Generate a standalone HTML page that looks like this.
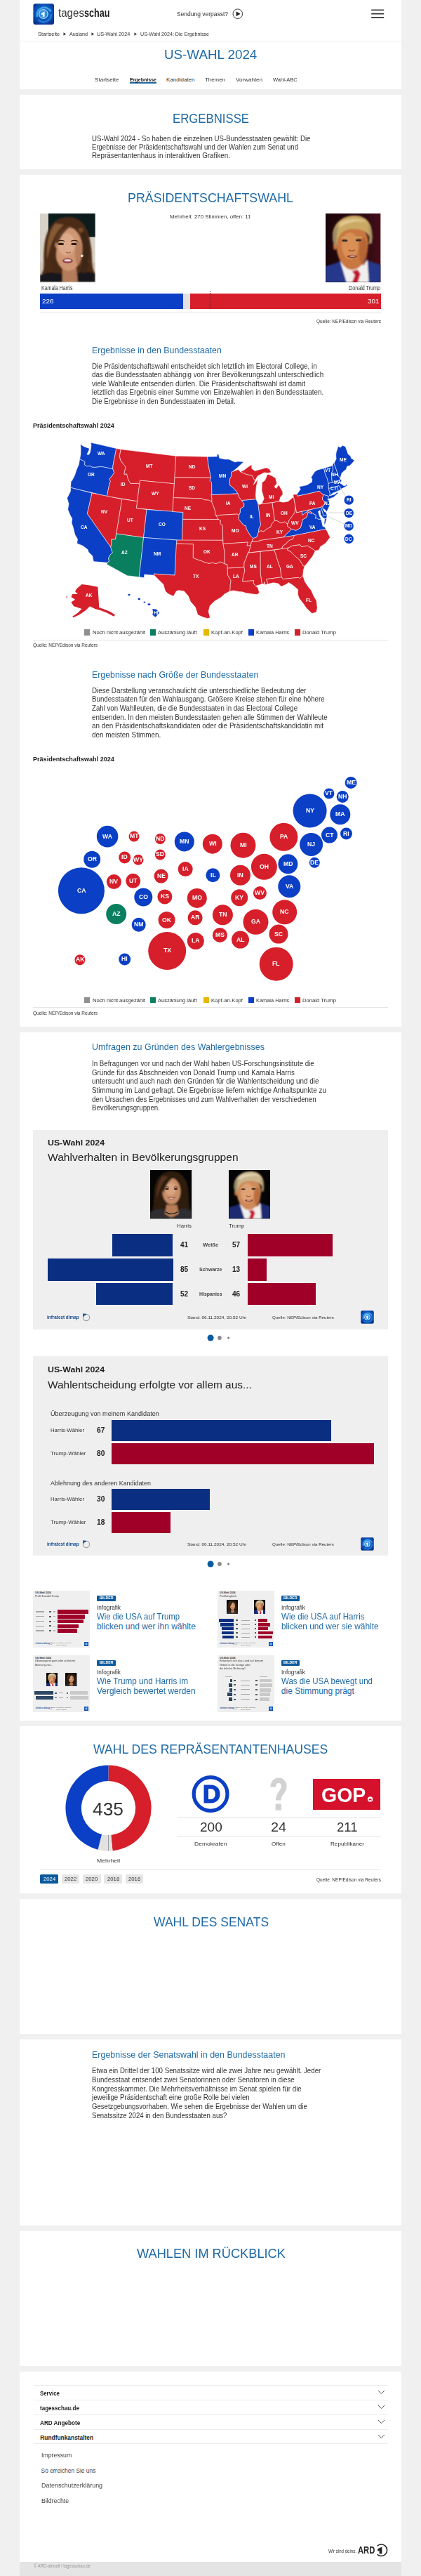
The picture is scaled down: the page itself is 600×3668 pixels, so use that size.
<!DOCTYPE html><html><head><meta charset="utf-8"><title>US-Wahl 2024</title><style>
html,body{margin:0;padding:0;}body{width:600px;height:3668px;position:relative;overflow:hidden;background:#f0f0f0;font-family:"Liberation Sans",sans-serif;}
#pg{position:absolute;left:0;top:0;width:600px;height:3668px;overflow:hidden}
#pg div,#pg span,#pg svg{position:absolute}
#pg span{white-space:pre;line-height:1}
</style></head><body><div id="pg">
<div style="left:28px;top:0px;width:544px;height:127px;background:#fff;"></div>
<div style="left:28px;top:135px;width:544px;height:106px;background:#fff;"></div>
<div style="left:28px;top:249px;width:544px;height:1213px;background:#fff;"></div>
<div style="left:28px;top:1470px;width:544px;height:980px;background:#fff;"></div>
<div style="left:28px;top:2458px;width:544px;height:238px;background:#fff;"></div>
<div style="left:28px;top:2704px;width:544px;height:192px;background:#fff;"></div>
<div style="left:28px;top:2904px;width:544px;height:265px;background:#fff;"></div>
<div style="left:28px;top:3177px;width:544px;height:192px;background:#fff;"></div>
<div style="left:28px;top:3377px;width:544px;height:271px;background:#fff;"></div>
<div style="left:28px;top:3648px;width:544px;height:20px;background:#e4e4e4;"></div>
<svg style="left:47px;top:4.5px" width="30" height="30" viewBox="0 0 30 30">
<defs><radialGradient id="lg" cx="0.5" cy="0.45" r="0.7"><stop offset="0" stop-color="#1c7fd6"/><stop offset="0.6" stop-color="#0b4fb4"/><stop offset="1" stop-color="#06257a"/></radialGradient></defs>
<rect x="0.4" y="0.3" width="29.6" height="29.6" rx="3.2" fill="url(#lg)"/>
<path d="M6 19 A10.5 10.5 0 0 1 25.5 11.5" fill="none" stroke="#49b4f4" stroke-width="2.8" opacity="0.8"/>
<path d="M26 15 A10.8 10.8 0 0 1 8 23.5" fill="none" stroke="#2d8fe2" stroke-width="2.4" opacity="0.7"/>
<circle cx="14.9" cy="15" r="6.3" fill="#2b8fe4" stroke="#fff" stroke-width="0.9"/>
<path d="M12 13.9 L16.6 11.2 L16.6 18.6 L13.8 18.9 L13.8 15.4 L12 16.2 Z" fill="#fff"/>
</svg>
<svg style="left:330px;top:11px" width="18" height="18" viewBox="0 0 18 18"><circle cx="8.8" cy="8.7" r="6.8" fill="#fff" stroke="#222" stroke-width="0.9"/><path d="M6.6 5.2 L12.6 8.7 L6.6 12.2 Z" fill="#222"/></svg>
<svg style="left:529px;top:10px" width="19" height="20" viewBox="0 0 19 20"><path d="M0.2 4.3 H18.2 M0.2 9.6 H18.2 M0.2 14.9 H18.2" stroke="#333" stroke-width="1.6"/></svg>
<svg style="left:90.3px;top:46.3px" width="5" height="5" viewBox="0 0 5 5"><path d="M0.5 0.3 L4 2.5 L0.5 4.7Z" fill="#333"/></svg>
<svg style="left:130px;top:46.3px" width="5" height="5" viewBox="0 0 5 5"><path d="M0.5 0.3 L4 2.5 L0.5 4.7Z" fill="#333"/></svg>
<svg style="left:191px;top:46.3px" width="5" height="5" viewBox="0 0 5 5"><path d="M0.5 0.3 L4 2.5 L0.5 4.7Z" fill="#333"/></svg>
<div style="left:28px;top:57.6px;width:544px;height:1px;background:#ececec;"></div>
<div style="left:184.6px;top:117.4px;width:38px;height:1.6px;background:#1f6aa6;"></div>
<svg style="left:57.2px;top:304.1px" width="78.8" height="97.8" viewBox="0 0 79 98" preserveAspectRatio="none">
<defs><filter id="hba" x="-20%" y="-20%" width="140%" height="140%"><feGaussianBlur stdDeviation="1.3"/></filter>
<filter id="hsa" x="-20%" y="-20%" width="140%" height="140%"><feGaussianBlur stdDeviation="0.7"/></filter>
<clipPath id="hca"><rect width="79" height="98"/></clipPath></defs>
<g clip-path="url(#hca)">
<rect width="79" height="98" fill="#d8d3c8"/><rect x="12" y="0" width="67" height="33.5" fill="#0c1c1d"/><rect x="0" y="70" width="79" height="28" fill="#cfc8ba"/>
<g filter="url(#hba)">
<path d="M40 5 C18 5 8 25 6 48 C4 66 8 80 2 86 C12 88 20 96 30 92 L58 92 C68 92 74 86 79 86 C72 76 76 60 72 42 C69 18 58 5 40 5Z" fill="#4b2c18"/>
<path d="M22 14 C12 26 9 46 10 66 C14 50 18 30 34 16Z" fill="#865a34"/>
<path d="M60 20 C68 34 70 52 70 72 C66 56 64 36 54 22Z" fill="#7a4e2c"/>
<path d="M0 98 L0 88 C10 84 22 82 34 88 L36 98Z" fill="#14141b"/>
<path d="M79 98 L79 86 C68 82 58 82 50 88 L48 98Z" fill="#14141b"/>
<path d="M32 78 L52 78 L54 98 L32 98Z" fill="#b47c5a"/>
<ellipse cx="41" cy="51" rx="19.5" ry="31" fill="#cf9673"/>
<ellipse cx="38" cy="44" rx="12" ry="16" fill="#dcaa8a"/>
<path d="M22 38 C25 24 36 17 48 17 C38 21 30 30 25 46Z" fill="#5c3820"/>
<path d="M58 28 C63 44 63 64 57 84 L66 86 C72 64 72 40 63 24Z" fill="#3e2614"/>
<path d="M24 50 C22 62 24 74 28 84 L20 86 C16 72 18 58 22 46Z" fill="#442a17"/>
<ellipse cx="55" cy="56" rx="5" ry="18" fill="#a8704e" opacity="0.6"/>
</g>
<g filter="url(#hsa)">
<ellipse cx="30" cy="43.5" rx="4.2" ry="1.7" fill="#2a1a14"/>
<ellipse cx="48.5" cy="43.5" rx="4.2" ry="1.7" fill="#2a1a14"/>
<path d="M25 39.5 Q30 37.5 35 39.5" stroke="#3a2418" stroke-width="1.1" fill="none"/>
<path d="M44 39.5 Q49 37.5 54 39.5" stroke="#3a2418" stroke-width="1.1" fill="none"/>
<path d="M37 55 Q40 57.5 44 55" stroke="#a56a4c" stroke-width="1.4" fill="none"/>
<ellipse cx="39.5" cy="67.5" rx="7.5" ry="3.6" fill="#9a4a52"/>
<ellipse cx="39.5" cy="67" rx="5" ry="1.5" fill="#e8dcd8"/>
<circle cx="60" cy="60.5" r="1.8" fill="#efe9e0"/>
</g></g></svg>
<svg style="left:464px;top:304.1px" width="78.6" height="98" viewBox="0 0 79 98" preserveAspectRatio="none">
<defs><filter id="tba" x="-20%" y="-20%" width="140%" height="140%"><feGaussianBlur stdDeviation="1.3"/></filter>
<filter id="tsa" x="-20%" y="-20%" width="140%" height="140%"><feGaussianBlur stdDeviation="0.7"/></filter>
<linearGradient id="tga" x1="0" x2="1"><stop offset="0" stop-color="#1c060a"/><stop offset="0.7" stop-color="#2c0a12"/><stop offset="1" stop-color="#470d18"/></linearGradient>
<clipPath id="tca"><rect width="79" height="98"/></clipPath></defs>
<g clip-path="url(#tca)">
<rect width="79" height="98" fill="url(#tga)"/>
<g filter="url(#tba)">
<path d="M0 98 L0 75 C8 73 16 71 22 67 L36 98Z" fill="#27378c"/>
<path d="M79 98 L79 73 C72 71 64 69 58 65 L46 98Z" fill="#27378c"/>
<path d="M21 68 L30 98 L62 98 L60 66 C50 78 34 78 21 68Z" fill="#f1efee"/>
<path d="M38 82 L46 80 L50 86 L46 98 L38 98 L42 88Z" fill="#c31230"/>
<path d="M15 40 C15 24 26 18 38 18 C52 18 61 26 61 42 C61 58 56 72 46 78 C40 81 34 81 29 77 C20 70 15 56 15 40Z" fill="#c87740"/>
<ellipse cx="35" cy="46" rx="12" ry="19" fill="#d98f54"/>
<ellipse cx="54" cy="54" rx="6" ry="20" fill="#a8582a" opacity="0.55"/>
<ellipse cx="13.5" cy="46" rx="2.6" ry="6" fill="#c9733c"/>
<path d="M12 44 C5 22 18 4 40 3 C60 2 70 16 66 44 C64 30 56 21 40 22 C26 22 18 28 16 46Z" fill="#cba965"/>
<path d="M20 14 C30 6 50 6 60 12 C50 10 30 12 20 20Z" fill="#dfc88e"/>
<path d="M11 42 C9 30 11 22 18 17 C16 26 15 34 16 48Z" fill="#9a8a66"/>
<path d="M66 42 C68 30 66 22 60 16 C63 26 63 34 62 44Z" fill="#a89468"/>
</g>
<g filter="url(#tsa)">
<ellipse cx="27.5" cy="38.5" rx="4" ry="1.5" fill="#3a2a26"/>
<ellipse cx="47" cy="38" rx="4" ry="1.5" fill="#3a2a26"/>
<path d="M22 35 Q28 32 34 35.5" stroke="#c9a262" stroke-width="1.6" fill="none"/>
<path d="M41 35 Q47 32 53 34.5" stroke="#c9a262" stroke-width="1.6" fill="none"/>
<path d="M33 52 Q37 54.5 42 52" stroke="#a55a28" stroke-width="1.5" fill="none"/>
<ellipse cx="38" cy="61" rx="7" ry="2.2" fill="#8a3a2e"/>
<ellipse cx="38.5" cy="60.6" rx="4.5" ry="0.9" fill="#e9d9cf"/>
</g></g></svg>
<div style="left:57px;top:418.3px;width:204px;height:21.4px;background:#0a3fc6;"></div>
<div style="left:261px;top:418.3px;width:10px;height:21.4px;background:#e2e2e2;"></div>
<div style="left:271px;top:418.3px;width:272px;height:21.4px;background:#d61f2a;"></div>
<div style="left:299.4px;top:415.3px;width:0;height:24.4px;border-left:1px dotted #6a2226"></div>
<div style="left:57px;top:445px;width:486px;height:1px;background:#e6e6e6;"></div>
<svg style="left:0;top:600px" width="600" height="320" viewBox="0 600 600 320"><g stroke="#fff" stroke-width="0.55" stroke-linejoin="round"><path d="M114.8 632.5 L115.1 639.6 L114.9 647.7 L113.6 653.8 L117.8 655.7 L120.8 657.5 L120.4 662.0 L123.5 663.8 L129.2 663.7 L131.0 665.2 L136.0 665.4 L142.6 664.6 L146.8 664.8 L160.8 667.7 L160.9 663.3 L165.8 638.5 L129.0 630.1 L130.0 632.9 L129.5 637.8 L128.5 644.2 L126.7 647.3 L123.9 647.1 L127.0 640.7 L126.9 638.2 L124.0 637.4 L119.0 635.5Z" fill="#0a3fc6"/>
<path d="M113.6 653.8 L112.3 661.4 L109.1 668.8 L106.4 677.3 L102.5 684.5 L101.1 685.8 L100.6 694.3 L152.4 706.6 L155.9 689.0 L157.5 685.3 L155.9 682.4 L159.3 678.0 L162.8 673.1 L160.8 667.7 L146.8 664.8 L142.6 664.6 L136.0 665.4 L131.0 665.2 L129.2 663.7 L123.5 663.8 L120.4 662.0 L120.8 657.5 L117.8 655.7Z" fill="#0a3fc6"/>
<path d="M100.6 694.3 L100.6 699.6 L95.6 709.2 L98.0 717.5 L96.7 725.5 L100.0 733.6 L102.8 738.5 L102.0 744.5 L104.4 751.3 L106.8 761.2 L110.6 767.8 L109.6 773.7 L118.0 777.2 L125.1 782.6 L126.1 786.0 L131.7 791.4 L133.3 799.6 L153.2 801.3 L155.5 798.9 L154.5 794.7 L157.0 790.0 L160.4 786.8 L159.0 783.2 L157.8 779.0 L124.4 731.4 L131.1 702.1Z" fill="#0a3fc6"/>
<path d="M131.1 702.1 L173.9 710.6 L164.5 767.9 L158.7 768.2 L159.1 773.1 L157.8 779.0 L124.4 731.4Z" fill="#d61f2a"/>
<path d="M165.8 638.5 L172.2 639.7 L170.4 649.4 L171.7 655.1 L175.8 660.9 L179.0 664.5 L176.9 675.2 L180.5 674.8 L182.7 682.7 L186.1 688.6 L195.8 688.1 L198.9 689.2 L195.6 713.8 L152.4 706.6 L155.9 689.0 L157.5 685.3 L155.9 682.4 L159.3 678.0 L162.8 673.1 L160.8 667.7 L160.9 663.3Z" fill="#d61f2a"/>
<path d="M172.2 639.7 L250.8 649.3 L248.5 688.8 L199.5 684.1 L198.9 689.2 L195.8 688.1 L186.1 688.6 L182.7 682.7 L180.5 674.8 L176.9 675.2 L179.0 664.5 L175.8 660.9 L171.7 655.1 L170.4 649.4Z" fill="#d61f2a"/>
<path d="M199.5 684.1 L248.4 688.8 L246.1 728.6 L194.3 723.7Z" fill="#d61f2a"/>
<path d="M173.9 710.6 L195.6 713.8 L194.3 723.7 L209.0 725.5 L204.6 765.4 L165.8 760.0Z" fill="#d61f2a"/>
<path d="M209.0 725.5 L260.9 729.4 L259.4 769.4 L204.6 765.4Z" fill="#0a3fc6"/>
<path d="M165.8 760.0 L204.6 765.4 L198.3 821.7 L181.4 819.7 L152.0 803.4 L153.2 801.3 L155.5 798.9 L154.5 794.7 L157.0 790.0 L160.4 786.8 L159.0 783.2 L157.8 779.0 L159.1 773.1 L158.7 768.2 L164.5 767.9Z" fill="#0a7f5f"/>
<path d="M204.6 765.4 L252.0 769.1 L249.1 819.1 L219.3 817.1 L219.9 819.3 L205.8 818.0 L205.4 822.5 L198.3 821.7Z" fill="#0a3fc6"/>
<path d="M250.7 649.3 L295.7 650.3 L296.7 660.1 L298.5 670.0 L300.7 680.4 L248.9 679.5Z" fill="#d61f2a"/>
<path d="M248.9 679.5 L300.7 680.4 L298.8 683.9 L301.6 686.8 L302.0 704.7 L300.9 704.7 L302.1 709.7 L301.8 714.7 L298.2 712.3 L291.6 711.8 L287.3 709.8 L247.2 708.7Z" fill="#d61f2a"/>
<path d="M247.2 708.7 L287.3 709.8 L291.6 711.8 L298.2 712.3 L301.8 714.7 L305.0 722.6 L306.6 727.6 L307.1 732.6 L307.7 733.8 L311.4 739.5 L260.5 739.4 L260.9 729.4 L246.1 728.6Z" fill="#d61f2a"/>
<path d="M260.5 739.4 L311.4 739.5 L314.5 741.4 L313.9 745.4 L317.1 748.3 L317.8 769.3 L259.4 769.4Z" fill="#d61f2a"/>
<path d="M252.0 769.1 L317.8 769.3 L318.0 774.3 L319.9 785.3 L320.3 802.9 L314.3 800.0 L307.8 802.7 L302.9 801.3 L298.0 802.4 L292.2 801.0 L286.5 798.5 L281.6 797.0 L275.1 794.3 L275.4 774.9 L251.7 774.1Z" fill="#d61f2a"/>
<path d="M251.4 774.1 L275.4 774.9 L275.1 794.3 L281.6 797.0 L286.5 798.5 L292.2 801.0 L298.0 802.4 L302.9 801.3 L307.8 802.7 L314.3 800.0 L320.3 802.9 L323.9 803.6 L324.7 819.2 L329.2 826.9 L328.2 832.9 L328.1 838.9 L327.4 841.9 L320.2 845.7 L315.2 850.4 L305.7 856.1 L299.2 862.6 L297.1 870.6 L299.5 879.8 L295.4 880.4 L290.0 879.0 L281.9 875.5 L278.4 864.6 L271.5 856.6 L268.2 848.6 L262.3 841.8 L254.6 840.5 L251.1 842.1 L247.3 849.1 L239.7 845.5 L235.6 841.8 L232.8 832.1 L224.0 823.5 L219.9 819.3 L219.3 817.1 L249.1 819.1Z" fill="#d61f2a"/>
<path d="M295.7 650.3 L309.4 650.0 L309.3 646.3 L311.6 647.0 L312.8 652.3 L320.5 653.9 L326.5 654.1 L334.8 657.9 L339.1 657.1 L347.5 657.4 L339.4 665.0 L331.7 671.5 L329.7 672.2 L330.0 677.6 L327.2 682.7 L327.8 691.2 L331.1 693.5 L335.7 698.1 L339.2 702.9 L302.0 704.7 L301.6 686.8 L298.8 683.9 L300.7 680.4 L298.5 670.0 L296.7 660.1 L295.7 650.3Z" fill="#0a3fc6"/>
<path d="M302.0 704.7 L339.2 702.9 L340.7 707.8 L344.3 712.5 L348.0 717.2 L347.7 721.2 L342.4 724.7 L342.4 729.7 L340.5 733.9 L338.1 732.0 L307.7 733.8 L307.1 732.6 L306.6 727.6 L305.0 722.6 L301.8 714.7 L302.1 709.7 L300.9 704.7Z" fill="#d61f2a"/>
<path d="M307.7 733.8 L338.1 732.0 L340.5 733.9 L340.1 738.9 L346.9 747.4 L350.8 749.1 L351.2 753.1 L357.6 763.6 L360.6 766.5 L359.2 771.5 L358.4 771.6 L357.3 776.7 L351.9 777.2 L353.2 772.1 L318.0 774.3 L317.1 748.3 L313.9 745.4 L314.5 741.4 L311.4 739.5Z" fill="#d61f2a"/>
<path d="M318.0 774.3 L353.2 772.1 L351.9 777.2 L357.3 776.7 L354.9 786.0 L353.4 787.1 L351.4 793.3 L348.0 801.6 L347.9 807.7 L324.2 809.1 L323.9 803.6 L320.3 802.9 L319.9 785.3Z" fill="#d61f2a"/>
<path d="M324.2 809.1 L347.9 807.7 L348.9 812.6 L346.3 822.8 L345.8 827.8 L361.6 826.5 L361.4 830.6 L364.3 834.5 L367.1 836.0 L369.6 843.7 L366.4 846.6 L359.3 845.7 L350.5 844.4 L345.2 842.8 L340.8 842.6 L332.9 840.9 L327.4 841.9 L328.1 838.9 L328.2 832.9 L329.2 826.9 L324.7 819.2Z" fill="#d61f2a"/>
<path d="M347.9 807.7 L348.0 801.6 L351.4 793.3 L353.4 787.1 L370.2 785.5 L371.1 786.4 L371.3 816.6 L373.5 831.6 L364.3 834.5 L361.4 830.6 L361.6 826.5 L345.8 827.8 L346.3 822.8 L348.9 812.6Z" fill="#d61f2a"/>
<path d="M370.2 785.5 L391.0 782.9 L397.4 803.6 L399.6 809.0 L400.4 817.0 L401.5 821.8 L379.6 824.7 L381.4 829.5 L381.3 831.7 L377.1 832.7 L377.0 828.5 L376.1 831.6 L373.5 831.6 L371.3 816.6 L371.1 786.4Z" fill="#d61f2a"/>
<path d="M391.0 782.9 L411.0 780.0 L409.5 783.2 L414.3 785.5 L420.4 791.6 L427.3 797.5 L432.1 805.7 L434.3 806.0 L432.4 811.7 L431.7 819.8 L427.2 823.8 L425.7 822.3 L403.1 824.6 L401.5 821.8 L400.4 817.0 L399.6 809.0 L397.4 803.6Z" fill="#d61f2a"/>
<path d="M379.6 824.7 L401.5 821.8 L403.1 824.6 L425.7 822.3 L427.2 823.8 L431.7 819.8 L434.6 828.5 L439.5 835.7 L443.5 840.5 L447.4 849.3 L451.1 855.6 L452.2 865.5 L450.8 871.7 L444.7 873.6 L437.0 866.3 L432.1 859.2 L426.4 852.1 L424.5 846.4 L424.7 839.4 L417.0 833.1 L411.2 829.4 L408.1 831.9 L400.8 835.3 L396.7 831.0 L389.6 829.7 L381.3 831.7 L381.4 829.5Z" fill="#d61f2a"/>
<path d="M411.0 780.0 L417.0 776.9 L427.1 775.6 L428.0 775.9 L429.7 778.5 L438.6 777.0 L449.4 784.3 L445.5 791.9 L440.8 797.9 L437.1 802.7 L434.3 806.0 L432.1 805.7 L427.3 797.5 L420.4 791.6 L414.3 785.5 L409.5 783.2Z" fill="#d61f2a"/>
<path d="M401.3 781.5 L403.2 777.1 L406.9 774.8 L411.0 770.3 L413.2 768.9 L417.4 767.5 L419.5 762.3 L464.4 753.3 L466.2 756.5 L470.4 765.2 L464.1 773.4 L456.8 778.2 L454.2 783.4 L449.4 784.3 L438.6 777.0 L429.7 778.5 L428.0 775.9 L427.1 775.6 L417.0 776.9 L411.0 780.0Z" fill="#d61f2a"/>
<path d="M353.4 787.1 L401.3 781.5 L403.2 777.1 L406.9 774.8 L411.0 770.3 L413.2 768.9 L417.4 767.5 L419.5 762.3 L403.9 764.8 L369.7 769.4 L369.6 770.4 L358.4 771.6 L357.3 776.7 L354.9 786.0Z" fill="#d61f2a"/>
<path d="M358.4 771.6 L359.2 771.5 L360.6 766.5 L365.6 764.8 L368.3 757.5 L371.9 755.6 L375.7 756.8 L381.4 752.4 L385.4 750.7 L387.5 745.7 L391.4 741.4 L393.8 741.0 L400.5 744.6 L405.7 742.9 L409.2 745.5 L409.9 749.6 L415.6 753.4 L403.9 764.8 L369.7 769.4 L369.6 770.4Z" fill="#d61f2a"/>
<path d="M403.9 764.8 L419.5 762.3 L464.4 753.3 L462.6 750.1 L460.1 749.7 L458.7 743.8 L457.7 739.4 L452.8 739.0 L451.2 737.3 L449.5 738.2 L450.4 733.4 L446.3 731.3 L444.2 729.5 L444.2 729.5 L443.8 731.5 L439.2 729.1 L436.8 736.8 L431.3 739.7 L428.4 751.4 L421.8 755.3 L415.6 753.4Z" fill="#0a3fc6"/>
<path d="M462.5 747.9 L464.2 743.5 L465.7 737.7 L462.9 738.8 L462.0 744.1Z" fill="#0a3fc6"/>
<path d="M409.2 745.5 L410.4 745.3 L412.0 740.6 L415.6 735.7 L419.9 730.0 L420.4 726.7 L420.8 720.8 L422.6 729.8 L430.3 728.3 L431.3 733.4 L434.8 730.2 L438.3 728.4 L439.9 726.7 L444.2 729.5 L443.8 731.5 L439.2 729.1 L436.8 736.8 L431.3 739.7 L428.4 751.4 L421.8 755.3 L415.6 753.4 L409.9 749.6Z" fill="#d61f2a"/>
<path d="M430.3 728.3 L457.5 722.2 L461.2 734.3 L466.1 733.2 L465.7 737.7 L462.9 738.8 L460.3 737.2 L456.9 732.9 L456.1 726.4 L453.5 728.6 L455.5 735.3 L457.7 739.4 L452.8 739.0 L451.2 737.3 L449.5 738.2 L450.4 733.4 L446.3 731.3 L444.2 729.5 L439.9 726.7 L438.3 728.4 L434.8 730.2 L431.3 733.4Z" fill="#0a3fc6"/>
<path d="M457.5 722.2 L458.7 720.8 L460.2 720.8 L460.0 724.4 L462.0 728.1 L464.9 730.1 L466.1 733.2 L461.2 734.3Z" fill="#0a3fc6"/>
<path d="M461.5 704.3 L459.5 708.5 L459.5 711.6 L464.0 715.7 L461.9 718.3 L460.2 720.8 L459.8 723.9 L463.0 725.7 L465.7 728.4 L468.5 722.8 L469.9 718.8 L469.1 712.3 L466.9 711.8 L468.0 709.5 L468.1 706.3Z" fill="#0a3fc6"/>
<path d="M418.3 707.4 L417.6 704.2 L423.2 703.7 L423.7 706.3 L455.3 699.3 L458.4 702.6 L461.5 704.3 L459.5 708.5 L459.5 711.6 L464.0 715.7 L461.9 718.3 L460.2 720.8 L458.7 720.8 L457.5 722.2 L422.6 729.8Z" fill="#d61f2a"/>
<path d="M423.7 706.3 L423.2 703.7 L428.2 696.8 L426.3 693.0 L437.2 690.7 L444.3 686.5 L444.8 682.3 L443.4 679.6 L448.8 671.6 L452.3 669.2 L461.6 666.7 L463.9 676.4 L466.1 680.5 L468.1 688.2 L468.3 695.4 L470.6 703.6 L469.1 705.0 L469.9 705.9 L477.4 703.8 L479.9 701.5 L482.5 701.6 L475.5 708.0 L468.5 710.6 L468.0 709.5 L468.1 706.3 L461.5 704.3 L458.4 702.6 L455.3 699.3Z" fill="#0a3fc6"/>
<path d="M468.3 695.4 L480.3 692.3 L482.1 698.3 L481.8 699.2 L474.6 702.0 L469.9 705.9 L469.1 705.0 L470.6 703.6Z" fill="#0a3fc6"/>
<path d="M480.3 692.3 L483.3 691.5 L486.0 696.1 L486.6 696.0 L484.3 698.0 L481.8 699.2 L482.1 698.3Z" fill="#0a3fc6"/>
<path d="M468.3 695.4 L468.1 688.2 L473.8 686.8 L481.9 684.8 L484.8 682.2 L486.9 683.8 L485.2 688.0 L488.1 690.3 L490.1 691.8 L493.0 691.1 L492.7 688.9 L491.4 688.5 L493.5 689.1 L494.4 692.0 L489.8 694.5 L486.6 696.0 L486.0 696.1 L483.3 691.5 L480.3 692.3Z" fill="#0a3fc6"/>
<path d="M461.6 666.7 L474.1 663.1 L474.8 668.2 L472.9 672.9 L472.9 677.0 L472.8 683.3 L473.8 686.8 L468.1 688.2 L466.1 680.5 L463.9 676.4Z" fill="#0a3fc6"/>
<path d="M473.8 686.8 L472.8 683.3 L472.9 677.0 L472.9 672.9 L474.8 668.2 L474.1 663.1 L474.1 660.6 L476.1 659.5 L480.7 672.7 L482.4 677.9 L484.0 679.7 L485.0 680.0 L484.8 682.2 L481.9 684.8Z" fill="#0a3fc6"/>
<path d="M476.1 659.5 L479.2 653.4 L478.7 648.3 L479.2 644.1 L482.0 635.3 L484.9 637.3 L488.2 634.3 L492.4 636.0 L496.2 646.9 L499.3 649.0 L500.7 652.7 L505.2 655.4 L501.8 659.7 L498.4 662.9 L494.4 664.3 L493.4 668.2 L489.2 671.6 L486.9 673.9 L485.5 679.0 L485.0 680.0 L484.0 679.7 L482.4 677.9 L480.7 672.7Z" fill="#0a3fc6"/>
<path d="M391.4 741.4 L387.8 715.6 L397.5 713.8 L403.4 715.2 L410.6 713.9 L418.3 707.6 L420.8 720.8 L420.4 726.7 L419.9 730.0 L415.6 735.7 L412.0 740.6 L410.4 745.3 L409.2 745.5 L405.7 742.9 L400.5 744.6 L393.8 741.0Z" fill="#d61f2a"/>
<path d="M391.4 741.4 L387.5 745.7 L385.4 750.7 L381.4 752.4 L375.7 756.8 L371.9 755.6 L368.3 757.5 L368.9 752.4 L371.5 747.5 L370.6 741.6 L367.8 717.6 L370.3 718.4 L373.0 717.0 L387.8 715.6Z" fill="#d61f2a"/>
<path d="M367.8 717.6 L365.0 710.6 L344.3 712.5 L348.0 717.2 L347.7 721.2 L342.4 724.7 L342.4 729.7 L340.5 733.9 L340.1 738.9 L346.9 747.4 L350.8 749.1 L351.2 753.1 L357.6 763.6 L360.6 766.5 L365.6 764.8 L368.3 757.5 L368.9 752.4 L371.5 747.5 L370.6 741.6Z" fill="#0a3fc6"/>
<path d="M387.8 715.6 L373.0 717.0 L376.3 710.1 L373.0 698.4 L373.4 687.3 L377.8 683.7 L380.7 676.3 L382.3 675.3 L387.2 677.4 L392.6 680.5 L394.6 688.3 L391.0 692.9 L393.5 695.5 L397.4 690.3 L402.7 700.1 L403.0 704.1 L399.3 708.3 L399.2 710.3 L397.5 713.8Z" fill="#d61f2a"/>
<path d="M342.6 672.0 L352.0 675.8 L359.1 677.0 L361.8 682.2 L363.5 684.5 L366.9 678.1 L371.5 675.6 L376.7 672.9 L382.0 673.6 L386.4 672.5 L384.0 667.8 L379.2 666.0 L372.6 667.9 L363.2 670.6 L358.7 667.1 L358.8 661.6 L352.4 665.8 L348.0 669.2Z" fill="#d61f2a"/>
<path d="M329.7 672.2 L331.7 671.5 L339.7 668.5 L342.6 672.0 L352.0 675.8 L359.1 677.0 L361.8 682.2 L363.5 684.5 L361.3 690.3 L367.5 682.6 L365.2 693.4 L364.4 705.5 L365.0 710.6 L344.3 712.5 L340.7 707.8 L339.2 702.9 L335.7 698.1 L331.1 693.5 L327.8 691.2 L327.2 682.7 L330.0 677.6Z" fill="#d61f2a"/></g><path d="M109.0 838.5 L116.6 832.0 L128.0 833.6 L139.4 835.8 L141.3 865.1 L147.0 867.0 L156.5 870.8 L164.1 875.4 L162.2 877.7 L152.7 872.7 L143.2 868.9 L135.6 867.0 L128.0 863.2 L122.3 868.9 L112.8 875.4 L104.4 879.2 L103.3 877.7 L110.9 872.7 L116.6 867.0 L110.9 865.1 L105.2 863.2 L101.4 857.5 L107.1 853.7 L101.4 849.9 L103.3 846.1 L110.9 846.1 L107.1 842.3Z" fill="#d61f2a"/><path d="M94.6 849.1 l1.6 0.6 l-0.4 1.2 l-1.4 -0.5Z" fill="#d61f2a"/><path d="M217.3 867.0 L223.0 867.8 L227.2 872.7 L221.5 878.8 L217.3 875.4 L218.1 871.6Z" fill="#0a3fc6"/><ellipse cx="183.9" cy="846.9" rx="1.7" ry="1.2" fill="#0a3fc6"/><ellipse cx="198.3" cy="852.9" rx="1.8" ry="1.3" fill="#0a3fc6"/><ellipse cx="205.9" cy="857.5" rx="1.4" ry="1.0" fill="#0a3fc6"/><ellipse cx="212.4" cy="860.6" rx="2.1" ry="1.4" fill="#0a3fc6"/><line x1="484.8" y1="694.8" x2="493.1" y2="707.1" stroke="#c4c4c4" stroke-width="0.7"/><line x1="468.2" y1="730.1" x2="490.5" y2="730.1" stroke="#c4c4c4" stroke-width="0.7"/><line x1="467.5" y1="735.4" x2="491.1" y2="746.4" stroke="#c4c4c4" stroke-width="0.7"/><circle cx="497.2" cy="712.1" r="6.7" fill="#0a3fc6"/><circle cx="497.2" cy="730.6" r="6.7" fill="#0a3fc6"/><circle cx="497.2" cy="749" r="6.7" fill="#0a3fc6"/><circle cx="497.2" cy="767.3" r="6.7" fill="#0a3fc6"/></svg>
<div style="left:120.1px;top:896.4px;width:8.2px;height:8.2px;background:#8f8f8f;"></div>
<div style="left:214.1px;top:896.4px;width:8.2px;height:8.2px;background:#0a7f5f;"></div>
<div style="left:289.6px;top:896.4px;width:8.2px;height:8.2px;background:#e6b800;"></div>
<div style="left:354.1px;top:896.4px;width:8.2px;height:8.2px;background:#0a3fc6;"></div>
<div style="left:419.6px;top:896.4px;width:8.2px;height:8.2px;background:#d61f2a;"></div>
<div style="left:47px;top:910.6px;width:506px;height:1px;background:#e6e6e6;"></div>
<svg style="left:0;top:1090px" width="600" height="320" viewBox="0 0 600 320"><circle cx="153.1" cy="101.1" r="15.3" fill="#0a3fc6"/><circle cx="191" cy="101" r="7.5" fill="#d61f2a"/><circle cx="228.3" cy="104.4" r="7.5" fill="#d61f2a"/><circle cx="262.8" cy="108.4" r="14" fill="#0a3fc6"/><circle cx="302.8" cy="111.7" r="14" fill="#d61f2a"/><circle cx="131.2" cy="133.7" r="12" fill="#0a3fc6"/><circle cx="177.7" cy="131" r="8.5" fill="#d61f2a"/><circle cx="197" cy="134.3" r="7.5" fill="#d61f2a"/><circle cx="228.3" cy="127" r="7.5" fill="#d61f2a"/><circle cx="264.2" cy="147.6" r="10.5" fill="#d61f2a"/><circle cx="303.4" cy="156.3" r="10" fill="#0a3fc6"/><circle cx="162.4" cy="165.6" r="10.5" fill="#d61f2a"/><circle cx="189.7" cy="164.3" r="10.5" fill="#d61f2a"/><circle cx="229.6" cy="157.6" r="10" fill="#d61f2a"/><circle cx="115.9" cy="178.2" r="33" fill="#0a3fc6"/><circle cx="204.3" cy="187.5" r="13" fill="#0a3fc6"/><circle cx="234.9" cy="186.9" r="10.5" fill="#d61f2a"/><circle cx="280.8" cy="188.9" r="14" fill="#d61f2a"/><circle cx="165.7" cy="211.5" r="14.5" fill="#0a7f5f"/><circle cx="197.7" cy="226.8" r="10" fill="#0a3fc6"/><circle cx="237.6" cy="220.1" r="12" fill="#d61f2a"/><circle cx="278.1" cy="216.8" r="10.5" fill="#d61f2a"/><circle cx="317.4" cy="212.8" r="14.5" fill="#d61f2a"/><circle cx="278.8" cy="250" r="12" fill="#d61f2a"/><circle cx="313.4" cy="241.4" r="10.5" fill="#d61f2a"/><circle cx="238.2" cy="264" r="27" fill="#d61f2a"/><circle cx="113.9" cy="276.7" r="7.5" fill="#d61f2a"/><circle cx="177.7" cy="276" r="8.5" fill="#0a3fc6"/><circle cx="500.1" cy="24.6" r="8.5" fill="#0a3fc6"/><circle cx="468.9" cy="39.9" r="7.5" fill="#0a3fc6"/><circle cx="488.2" cy="44.6" r="8.5" fill="#0a3fc6"/><circle cx="441.6" cy="64.5" r="24" fill="#0a3fc6"/><circle cx="484.8" cy="69.8" r="14.5" fill="#0a3fc6"/><circle cx="469.5" cy="99.1" r="11.5" fill="#0a3fc6"/><circle cx="493.5" cy="97.1" r="8.5" fill="#0a3fc6"/><circle cx="404.4" cy="101.8" r="20" fill="#d61f2a"/><circle cx="443.6" cy="112.4" r="16.5" fill="#0a3fc6"/><circle cx="346.5" cy="113.7" r="18" fill="#d61f2a"/><circle cx="448.3" cy="138.3" r="7.5" fill="#0a3fc6"/><circle cx="410.4" cy="140.3" r="14" fill="#0a3fc6"/><circle cx="376.4" cy="144.3" r="18.5" fill="#d61f2a"/><circle cx="342.5" cy="156.3" r="14.5" fill="#d61f2a"/><circle cx="412.3" cy="172.3" r="16" fill="#0a3fc6"/><circle cx="370.4" cy="181.6" r="9.5" fill="#d61f2a"/><circle cx="341.2" cy="188.2" r="12" fill="#d61f2a"/><circle cx="405.7" cy="208.8" r="17.5" fill="#d61f2a"/><circle cx="364.5" cy="222.8" r="18" fill="#d61f2a"/><circle cx="397" cy="240.1" r="13.5" fill="#d61f2a"/><circle cx="342.5" cy="248.1" r="12.5" fill="#d61f2a"/><circle cx="393.7" cy="282.7" r="24" fill="#d61f2a"/></svg>
<div style="left:120.1px;top:1420.1px;width:8.2px;height:8.2px;background:#8f8f8f;"></div>
<div style="left:214.1px;top:1420.1px;width:8.2px;height:8.2px;background:#0a7f5f;"></div>
<div style="left:289.6px;top:1420.1px;width:8.2px;height:8.2px;background:#e6b800;"></div>
<div style="left:354.1px;top:1420.1px;width:8.2px;height:8.2px;background:#0a3fc6;"></div>
<div style="left:419.6px;top:1420.1px;width:8.2px;height:8.2px;background:#d61f2a;"></div>
<div style="left:47px;top:1433.9px;width:506px;height:1px;background:#e6e6e6;"></div>
<div style="left:47.2px;top:1609px;width:505.4px;height:283.6px;background:#efefef;"></div>
<svg style="left:214.3px;top:1666.4px" width="59.4" height="69.4" viewBox="0 0 79 98" preserveAspectRatio="none">
<defs><filter id="jbb" x="-20%" y="-20%" width="140%" height="140%"><feGaussianBlur stdDeviation="1.2"/></filter>
<filter id="jsb" x="-20%" y="-20%" width="140%" height="140%"><feGaussianBlur stdDeviation="0.6"/></filter>
<clipPath id="jcb"><rect width="79" height="98"/></clipPath></defs>
<g clip-path="url(#jcb)">
<rect width="79" height="98" fill="#050505"/>
<g filter="url(#jbb)">
<path d="M40 3 C20 3 10 20 8 40 C6 56 8 70 4 80 C14 84 24 82 30 78 L52 78 C60 82 68 84 76 78 C72 68 74 54 72 38 C70 16 58 3 40 3Z" fill="#2f1c10"/>
<path d="M24 12 C14 24 12 44 12 60 C16 44 20 26 34 14Z" fill="#563620"/>
<path d="M0 98 L0 84 C12 78 24 76 34 82 L40 98Z" fill="#2e2e32"/>
<path d="M79 98 L79 82 C68 76 56 76 48 82 L42 98Z" fill="#2e2e32"/>
<path d="M31 70 L51 70 L54 88 L40 96 L28 88Z" fill="#b87e58"/>
<ellipse cx="40.5" cy="43" rx="17" ry="26" fill="#c98f68"/>
<ellipse cx="39" cy="38" rx="10" ry="13" fill="#d8a480"/>
<path d="M22 36 C24 18 36 12 48 13 C38 18 30 28 26 46Z" fill="#2f1c10"/>
</g>
<g filter="url(#jsb)">
<ellipse cx="32" cy="38" rx="3.6" ry="1.4" fill="#1e120c"/>
<ellipse cx="48.5" cy="38" rx="3.6" ry="1.4" fill="#1e120c"/>
<path d="M28 34.5 Q32 32.8 36 34.5" stroke="#2a180e" stroke-width="1" fill="none"/>
<path d="M44.5 34.5 Q48.5 32.8 52.5 34.5" stroke="#2a180e" stroke-width="1" fill="none"/>
<path d="M33 55 Q40 62 48 55 Q40 57.5 33 55Z" fill="#f0e6e0" stroke="#8a4444" stroke-width="1"/>
<path d="M29 84 Q40 93 52 84" stroke="#1a1a1a" stroke-width="1.8" fill="none"/>
</g></g></svg>
<svg style="left:325.9px;top:1666.4px" width="59.4" height="69.4" viewBox="0 0 79 98" preserveAspectRatio="none">
<defs><filter id="tbb" x="-20%" y="-20%" width="140%" height="140%"><feGaussianBlur stdDeviation="1.3"/></filter>
<filter id="tsb" x="-20%" y="-20%" width="140%" height="140%"><feGaussianBlur stdDeviation="0.7"/></filter>
<linearGradient id="tgb" x1="0" x2="1"><stop offset="0" stop-color="#1c060a"/><stop offset="0.7" stop-color="#2c0a12"/><stop offset="1" stop-color="#470d18"/></linearGradient>
<clipPath id="tcb"><rect width="79" height="98"/></clipPath></defs>
<g clip-path="url(#tcb)">
<rect width="79" height="98" fill="#050505"/>
<g filter="url(#tbb)">
<path d="M0 98 L0 75 C8 73 16 71 22 67 L36 98Z" fill="#1b2a72"/>
<path d="M79 98 L79 73 C72 71 64 69 58 65 L46 98Z" fill="#1b2a72"/>
<path d="M21 68 L30 98 L62 98 L60 66 C50 78 34 78 21 68Z" fill="#f1efee"/>
<path d="M38 82 L46 80 L50 86 L46 98 L38 98 L42 88Z" fill="#c31230"/>
<path d="M15 40 C15 24 26 18 38 18 C52 18 61 26 61 42 C61 58 56 72 46 78 C40 81 34 81 29 77 C20 70 15 56 15 40Z" fill="#cf8a5a"/>
<ellipse cx="35" cy="46" rx="12" ry="19" fill="#dfa274"/>
<ellipse cx="54" cy="54" rx="6" ry="20" fill="#a8582a" opacity="0.55"/>
<ellipse cx="13.5" cy="46" rx="2.6" ry="6" fill="#c9733c"/>
<path d="M12 44 C5 22 18 4 40 3 C60 2 70 16 66 44 C64 30 56 21 40 22 C26 22 18 28 16 46Z" fill="#cbb58c"/>
<path d="M20 14 C30 6 50 6 60 12 C50 10 30 12 20 20Z" fill="#e2d4b2"/>
<path d="M11 42 C9 30 11 22 18 17 C16 26 15 34 16 48Z" fill="#9a8a66"/>
<path d="M66 42 C68 30 66 22 60 16 C63 26 63 34 62 44Z" fill="#a89468"/>
</g>
<g filter="url(#tsb)">
<ellipse cx="27.5" cy="38.5" rx="4" ry="1.5" fill="#3a2a26"/>
<ellipse cx="47" cy="38" rx="4" ry="1.5" fill="#3a2a26"/>
<path d="M22 35 Q28 32 34 35.5" stroke="#c9a262" stroke-width="1.6" fill="none"/>
<path d="M41 35 Q47 32 53 34.5" stroke="#c9a262" stroke-width="1.6" fill="none"/>
<path d="M33 52 Q37 54.5 42 52" stroke="#a55a28" stroke-width="1.5" fill="none"/>
<ellipse cx="38" cy="61" rx="7" ry="2.2" fill="#8a3a2e"/>
<ellipse cx="38.5" cy="60.6" rx="4.5" ry="0.9" fill="#e9d9cf"/>
</g></g></svg>
<div style="left:160.4px;top:1757.3px;width:86.1px;height:31.4px;background:#0a2f82;"></div>
<div style="left:353px;top:1757.3px;width:120.555px;height:31.4px;background:#a00028;"></div>
<div style="left:68px;top:1792.3px;width:178.5px;height:31.3px;background:#0a2f82;"></div>
<div style="left:353px;top:1792.3px;width:27.495px;height:31.3px;background:#a00028;"></div>
<div style="left:137.3px;top:1827.2px;width:109.2px;height:31px;background:#0a2f82;"></div>
<div style="left:353px;top:1827.2px;width:97.29px;height:31px;background:#a00028;"></div>
<svg style="left:115.5px;top:1869.2px" width="14" height="14" viewBox="0 0 14 14"><circle cx="7" cy="7" r="4.6" fill="none" stroke="#9aa3ad" stroke-width="1.2"/><path d="M7 2.4 A4.6 4.6 0 0 0 2.6 5.6" fill="none" stroke="#1d4f91" stroke-width="1.6"/><rect x="2.2" y="1.4" width="2.4" height="2.4" fill="#1d4f91"/></svg>
<svg style="left:513.5px;top:1866px" width="19" height="19" viewBox="0 0 30 30">
<defs><radialGradient id="mlc1" cx="0.5" cy="0.45" r="0.7"><stop offset="0" stop-color="#1c7fd6"/><stop offset="0.6" stop-color="#0b4fb4"/><stop offset="1" stop-color="#06257a"/></radialGradient></defs>
<rect x="0.4" y="0.3" width="29.2" height="29.2" rx="3.2" fill="url(#mlc1)"/>
<path d="M6 19 A10.5 10.5 0 0 1 25.5 11.5" fill="none" stroke="#49b4f4" stroke-width="2.8" opacity="0.8"/>
<path d="M26 15 A10.8 10.8 0 0 1 8 23.5" fill="none" stroke="#2d8fe2" stroke-width="2.4" opacity="0.7"/>
<circle cx="14.9" cy="15" r="6.3" fill="#2b8fe4" stroke="#fff" stroke-width="1.2"/>
<path d="M12 13.9 L16.6 11.2 L16.6 18.6 L13.8 18.9 L13.8 15.4 L12 16.2 Z" fill="#fff"/>
</svg>
<svg style="left:290px;top:1899.2px" width="50" height="12" viewBox="0 0 50 12"><circle cx="10.1" cy="6" r="4.5" fill="#0b5a9e"/><circle cx="22.9" cy="6" r="2.9" fill="#8a8a8a"/><circle cx="35.6" cy="6" r="1.5" fill="#777"/></svg>
<div style="left:47.2px;top:1930.5px;width:505.4px;height:284.5px;background:#efefef;"></div>
<div style="left:159px;top:2022px;width:313.225px;height:29.7px;background:#0a2f82;"></div>
<div style="left:159px;top:2054.7px;width:374px;height:29.9px;background:#a00028;"></div>
<div style="left:159px;top:2120px;width:140.25px;height:29.9px;background:#0a2f82;"></div>
<div style="left:159px;top:2153.2px;width:84.15px;height:29.5px;background:#a00028;"></div>
<svg style="left:115.5px;top:2191.8px" width="14" height="14" viewBox="0 0 14 14"><circle cx="7" cy="7" r="4.6" fill="none" stroke="#9aa3ad" stroke-width="1.2"/><path d="M7 2.4 A4.6 4.6 0 0 0 2.6 5.6" fill="none" stroke="#1d4f91" stroke-width="1.6"/><rect x="2.2" y="1.4" width="2.4" height="2.4" fill="#1d4f91"/></svg>
<svg style="left:513.5px;top:2188.6px" width="19" height="19" viewBox="0 0 30 30">
<defs><radialGradient id="mlc2" cx="0.5" cy="0.45" r="0.7"><stop offset="0" stop-color="#1c7fd6"/><stop offset="0.6" stop-color="#0b4fb4"/><stop offset="1" stop-color="#06257a"/></radialGradient></defs>
<rect x="0.4" y="0.3" width="29.2" height="29.2" rx="3.2" fill="url(#mlc2)"/>
<path d="M6 19 A10.5 10.5 0 0 1 25.5 11.5" fill="none" stroke="#49b4f4" stroke-width="2.8" opacity="0.8"/>
<path d="M26 15 A10.8 10.8 0 0 1 8 23.5" fill="none" stroke="#2d8fe2" stroke-width="2.4" opacity="0.7"/>
<circle cx="14.9" cy="15" r="6.3" fill="#2b8fe4" stroke="#fff" stroke-width="1.2"/>
<path d="M12 13.9 L16.6 11.2 L16.6 18.6 L13.8 18.9 L13.8 15.4 L12 16.2 Z" fill="#fff"/>
</svg>
<svg style="left:290px;top:2221.3px" width="50" height="12" viewBox="0 0 50 12"><circle cx="10.1" cy="6" r="4.5" fill="#0b5a9e"/><circle cx="22.9" cy="6" r="2.9" fill="#8a8a8a"/><circle cx="35.6" cy="6" r="1.5" fill="#777"/></svg>
<div style="left:138.1px;top:2271.6px;width:26.6px;height:8.7px;background:#0b5a9e;border-radius:1px;"></div>
<div style="left:400.8px;top:2271.6px;width:26.6px;height:8.7px;background:#0b5a9e;border-radius:1px;"></div>
<div style="left:138.1px;top:2363.6px;width:26.6px;height:8.7px;background:#0b5a9e;border-radius:1px;"></div>
<div style="left:400.8px;top:2363.6px;width:26.6px;height:8.7px;background:#0b5a9e;border-radius:1px;"></div>
<div style="left:47.3px;top:2265px;width:80.8px;height:81px;background:#efefef;"></div>
<svg style="left:70.3px;top:2337.6px" width="5" height="5" viewBox="0 0 14 14"><circle cx="7" cy="7" r="4.6" fill="none" stroke="#9aa3ad" stroke-width="1.6"/></svg>
<svg style="left:120.3px;top:2337.6px" width="6.2" height="6.2" viewBox="0 0 30 30">
<defs><radialGradient id="mlt2312" cx="0.5" cy="0.45" r="0.7"><stop offset="0" stop-color="#1c7fd6"/><stop offset="0.6" stop-color="#0b4fb4"/><stop offset="1" stop-color="#06257a"/></radialGradient></defs>
<rect x="0.4" y="0.3" width="29.2" height="29.2" rx="3.2" fill="url(#mlt2312)"/>
<path d="M6 19 A10.5 10.5 0 0 1 25.5 11.5" fill="none" stroke="#49b4f4" stroke-width="2.8" opacity="0.8"/>
<path d="M26 15 A10.8 10.8 0 0 1 8 23.5" fill="none" stroke="#2d8fe2" stroke-width="2.4" opacity="0.7"/>
<circle cx="14.9" cy="15" r="6.3" fill="#2b8fe4" stroke="#fff" stroke-width="1.2"/>
<path d="M12 13.9 L16.6 11.2 L16.6 18.6 L13.8 18.9 L13.8 15.4 L12 16.2 Z" fill="#fff"/>
</svg>
<div style="left:81.6px;top:2292.2px;width:44.2px;height:6px;background:#a00028;"></div>
<div style="left:50.5px;top:2294.4px;width:12px;height:1.2px;background:#777;opacity:0.6"></div>
<div style="left:70px;top:2294px;width:3.2px;height:2px;background:#333;opacity:0.8"></div>
<div style="left:76px;top:2294.4px;width:2.6px;height:1.2px;background:#888;opacity:0.6"></div>
<div style="left:81.6px;top:2298.9px;width:39.2px;height:6px;background:#a00028;"></div>
<div style="left:50.5px;top:2301.1px;width:12px;height:1.2px;background:#777;opacity:0.6"></div>
<div style="left:70px;top:2300.7px;width:3.2px;height:2px;background:#333;opacity:0.8"></div>
<div style="left:76px;top:2301.1px;width:2.6px;height:1.2px;background:#888;opacity:0.6"></div>
<div style="left:81.6px;top:2305.9px;width:37.2px;height:5.6px;background:#a00028;"></div>
<div style="left:50.5px;top:2308.1px;width:12px;height:1.2px;background:#777;opacity:0.6"></div>
<div style="left:70px;top:2307.7px;width:3.2px;height:2px;background:#333;opacity:0.8"></div>
<div style="left:76px;top:2308.1px;width:2.6px;height:1.2px;background:#888;opacity:0.6"></div>
<div style="left:81.6px;top:2312.5px;width:30.9px;height:5.7px;background:#a00028;"></div>
<div style="left:50.5px;top:2314.7px;width:12px;height:1.2px;background:#777;opacity:0.6"></div>
<div style="left:70px;top:2314.3px;width:3.2px;height:2px;background:#333;opacity:0.8"></div>
<div style="left:76px;top:2314.7px;width:2.6px;height:1.2px;background:#888;opacity:0.6"></div>
<div style="left:81.6px;top:2319.2px;width:28.6px;height:5.6px;background:#a00028;"></div>
<div style="left:50.5px;top:2321.4px;width:12px;height:1.2px;background:#777;opacity:0.6"></div>
<div style="left:70px;top:2321px;width:3.2px;height:2px;background:#333;opacity:0.8"></div>
<div style="left:76px;top:2321.4px;width:2.6px;height:1.2px;background:#888;opacity:0.6"></div>
<div style="left:310px;top:2265px;width:80.8px;height:81px;background:#efefef;"></div>
<svg style="left:333px;top:2337.6px" width="5" height="5" viewBox="0 0 14 14"><circle cx="7" cy="7" r="4.6" fill="none" stroke="#9aa3ad" stroke-width="1.6"/></svg>
<svg style="left:383px;top:2337.6px" width="6.2" height="6.2" viewBox="0 0 30 30">
<defs><radialGradient id="mlt2575" cx="0.5" cy="0.45" r="0.7"><stop offset="0" stop-color="#1c7fd6"/><stop offset="0.6" stop-color="#0b4fb4"/><stop offset="1" stop-color="#06257a"/></radialGradient></defs>
<rect x="0.4" y="0.3" width="29.2" height="29.2" rx="3.2" fill="url(#mlt2575)"/>
<path d="M6 19 A10.5 10.5 0 0 1 25.5 11.5" fill="none" stroke="#49b4f4" stroke-width="2.8" opacity="0.8"/>
<path d="M26 15 A10.8 10.8 0 0 1 8 23.5" fill="none" stroke="#2d8fe2" stroke-width="2.4" opacity="0.7"/>
<circle cx="14.9" cy="15" r="6.3" fill="#2b8fe4" stroke="#fff" stroke-width="1.2"/>
<path d="M12 13.9 L16.6 11.2 L16.6 18.6 L13.8 18.9 L13.8 15.4 L12 16.2 Z" fill="#fff"/>
</svg>
<svg style="left:322.6px;top:2278.3px" width="16.6" height="19.9" viewBox="0 0 79 98" preserveAspectRatio="none">
<defs><filter id="jbt2" x="-20%" y="-20%" width="140%" height="140%"><feGaussianBlur stdDeviation="1.2"/></filter>
<filter id="jst2" x="-20%" y="-20%" width="140%" height="140%"><feGaussianBlur stdDeviation="0.6"/></filter>
<clipPath id="jct2"><rect width="79" height="98"/></clipPath></defs>
<g clip-path="url(#jct2)">
<rect width="79" height="98" fill="#050505"/>
<g filter="url(#jbt2)">
<path d="M40 3 C20 3 10 20 8 40 C6 56 8 70 4 80 C14 84 24 82 30 78 L52 78 C60 82 68 84 76 78 C72 68 74 54 72 38 C70 16 58 3 40 3Z" fill="#2f1c10"/>
<path d="M24 12 C14 24 12 44 12 60 C16 44 20 26 34 14Z" fill="#563620"/>
<path d="M0 98 L0 84 C12 78 24 76 34 82 L40 98Z" fill="#2e2e32"/>
<path d="M79 98 L79 82 C68 76 56 76 48 82 L42 98Z" fill="#2e2e32"/>
<path d="M31 70 L51 70 L54 88 L40 96 L28 88Z" fill="#b87e58"/>
<ellipse cx="40.5" cy="43" rx="17" ry="26" fill="#c98f68"/>
<ellipse cx="39" cy="38" rx="10" ry="13" fill="#d8a480"/>
<path d="M22 36 C24 18 36 12 48 13 C38 18 30 28 26 46Z" fill="#2f1c10"/>
</g>
<g filter="url(#jst2)">
<ellipse cx="32" cy="38" rx="3.6" ry="1.4" fill="#1e120c"/>
<ellipse cx="48.5" cy="38" rx="3.6" ry="1.4" fill="#1e120c"/>
<path d="M28 34.5 Q32 32.8 36 34.5" stroke="#2a180e" stroke-width="1" fill="none"/>
<path d="M44.5 34.5 Q48.5 32.8 52.5 34.5" stroke="#2a180e" stroke-width="1" fill="none"/>
<path d="M33 55 Q40 62 48 55 Q40 57.5 33 55Z" fill="#f0e6e0" stroke="#8a4444" stroke-width="1"/>
<path d="M29 84 Q40 93 52 84" stroke="#1a1a1a" stroke-width="1.8" fill="none"/>
</g></g></svg>
<svg style="left:361.5px;top:2278.3px" width="16.7" height="19.9" viewBox="0 0 79 98" preserveAspectRatio="none">
<defs><filter id="tbt2" x="-20%" y="-20%" width="140%" height="140%"><feGaussianBlur stdDeviation="1.3"/></filter>
<filter id="tst2" x="-20%" y="-20%" width="140%" height="140%"><feGaussianBlur stdDeviation="0.7"/></filter>
<linearGradient id="tgt2" x1="0" x2="1"><stop offset="0" stop-color="#1c060a"/><stop offset="0.7" stop-color="#2c0a12"/><stop offset="1" stop-color="#470d18"/></linearGradient>
<clipPath id="tct2"><rect width="79" height="98"/></clipPath></defs>
<g clip-path="url(#tct2)">
<rect width="79" height="98" fill="#050505"/>
<g filter="url(#tbt2)">
<path d="M0 98 L0 75 C8 73 16 71 22 67 L36 98Z" fill="#1b2a72"/>
<path d="M79 98 L79 73 C72 71 64 69 58 65 L46 98Z" fill="#1b2a72"/>
<path d="M21 68 L30 98 L62 98 L60 66 C50 78 34 78 21 68Z" fill="#f1efee"/>
<path d="M38 82 L46 80 L50 86 L46 98 L38 98 L42 88Z" fill="#c31230"/>
<path d="M15 40 C15 24 26 18 38 18 C52 18 61 26 61 42 C61 58 56 72 46 78 C40 81 34 81 29 77 C20 70 15 56 15 40Z" fill="#cf8a5a"/>
<ellipse cx="35" cy="46" rx="12" ry="19" fill="#dfa274"/>
<ellipse cx="54" cy="54" rx="6" ry="20" fill="#a8582a" opacity="0.55"/>
<ellipse cx="13.5" cy="46" rx="2.6" ry="6" fill="#c9733c"/>
<path d="M12 44 C5 22 18 4 40 3 C60 2 70 16 66 44 C64 30 56 21 40 22 C26 22 18 28 16 46Z" fill="#cbb58c"/>
<path d="M20 14 C30 6 50 6 60 12 C50 10 30 12 20 20Z" fill="#e2d4b2"/>
<path d="M11 42 C9 30 11 22 18 17 C16 26 15 34 16 48Z" fill="#9a8a66"/>
<path d="M66 42 C68 30 66 22 60 16 C63 26 63 34 62 44Z" fill="#a89468"/>
</g>
<g filter="url(#tst2)">
<ellipse cx="27.5" cy="38.5" rx="4" ry="1.5" fill="#3a2a26"/>
<ellipse cx="47" cy="38" rx="4" ry="1.5" fill="#3a2a26"/>
<path d="M22 35 Q28 32 34 35.5" stroke="#c9a262" stroke-width="1.6" fill="none"/>
<path d="M41 35 Q47 32 53 34.5" stroke="#c9a262" stroke-width="1.6" fill="none"/>
<path d="M33 52 Q37 54.5 42 52" stroke="#a55a28" stroke-width="1.5" fill="none"/>
<ellipse cx="38" cy="61" rx="7" ry="2.2" fill="#8a3a2e"/>
<ellipse cx="38.5" cy="60.6" rx="4.5" ry="0.9" fill="#e9d9cf"/>
</g></g></svg>
<div style="left:312.3px;top:2304.9px;width:21px;height:5px;background:#0a2f82;"></div>
<div style="left:367.5px;top:2304.9px;width:13px;height:5px;background:#a00028;"></div>
<div style="left:335.8px;top:2306.3px;width:2.8px;height:1.9px;background:#333;opacity:0.8"></div>
<div style="left:362.6px;top:2306.3px;width:2.8px;height:1.9px;background:#333;opacity:0.8"></div>
<div style="left:344px;top:2306.7px;width:12px;height:1.1px;background:#777;opacity:0.6"></div>
<div style="left:314.3px;top:2310.9px;width:19px;height:5px;background:#0a2f82;"></div>
<div style="left:367.5px;top:2310.9px;width:17.3px;height:5px;background:#a00028;"></div>
<div style="left:335.8px;top:2312.3px;width:2.8px;height:1.9px;background:#333;opacity:0.8"></div>
<div style="left:362.6px;top:2312.3px;width:2.8px;height:1.9px;background:#333;opacity:0.8"></div>
<div style="left:344px;top:2312.7px;width:12px;height:1.1px;background:#777;opacity:0.6"></div>
<div style="left:316px;top:2316.9px;width:17.3px;height:4.6px;background:#0a2f82;"></div>
<div style="left:367.5px;top:2316.9px;width:14px;height:4.6px;background:#a00028;"></div>
<div style="left:335.8px;top:2318.3px;width:2.8px;height:1.9px;background:#333;opacity:0.8"></div>
<div style="left:362.6px;top:2318.3px;width:2.8px;height:1.9px;background:#333;opacity:0.8"></div>
<div style="left:344px;top:2318.7px;width:12px;height:1.1px;background:#777;opacity:0.6"></div>
<div style="left:316px;top:2322.8px;width:17.3px;height:4.7px;background:#0a2f82;"></div>
<div style="left:367.5px;top:2322.8px;width:21.6px;height:4.7px;background:#a00028;"></div>
<div style="left:335.8px;top:2324.2px;width:2.8px;height:1.9px;background:#333;opacity:0.8"></div>
<div style="left:362.6px;top:2324.2px;width:2.8px;height:1.9px;background:#333;opacity:0.8"></div>
<div style="left:344px;top:2324.6px;width:12px;height:1.1px;background:#777;opacity:0.6"></div>
<div style="left:316.6px;top:2328.8px;width:16.7px;height:4.7px;background:#0a2f82;"></div>
<div style="left:367.5px;top:2328.8px;width:20.6px;height:4.7px;background:#a00028;"></div>
<div style="left:335.8px;top:2330.2px;width:2.8px;height:1.9px;background:#333;opacity:0.8"></div>
<div style="left:362.6px;top:2330.2px;width:2.8px;height:1.9px;background:#333;opacity:0.8"></div>
<div style="left:344px;top:2330.6px;width:12px;height:1.1px;background:#777;opacity:0.6"></div>
<div style="left:47.3px;top:2357.2px;width:80.8px;height:81px;background:#efefef;"></div>
<svg style="left:70.3px;top:2429.8px" width="5" height="5" viewBox="0 0 14 14"><circle cx="7" cy="7" r="4.6" fill="none" stroke="#9aa3ad" stroke-width="1.6"/></svg>
<svg style="left:120.3px;top:2429.8px" width="6.2" height="6.2" viewBox="0 0 30 30">
<defs><radialGradient id="mlt2404" cx="0.5" cy="0.45" r="0.7"><stop offset="0" stop-color="#1c7fd6"/><stop offset="0.6" stop-color="#0b4fb4"/><stop offset="1" stop-color="#06257a"/></radialGradient></defs>
<rect x="0.4" y="0.3" width="29.2" height="29.2" rx="3.2" fill="url(#mlt2404)"/>
<path d="M6 19 A10.5 10.5 0 0 1 25.5 11.5" fill="none" stroke="#49b4f4" stroke-width="2.8" opacity="0.8"/>
<path d="M26 15 A10.8 10.8 0 0 1 8 23.5" fill="none" stroke="#2d8fe2" stroke-width="2.4" opacity="0.7"/>
<circle cx="14.9" cy="15" r="6.3" fill="#2b8fe4" stroke="#fff" stroke-width="1.2"/>
<path d="M12 13.9 L16.6 11.2 L16.6 18.6 L13.8 18.9 L13.8 15.4 L12 16.2 Z" fill="#fff"/>
</svg>
<svg style="left:65.6px;top:2381.5px" width="16.6" height="19.7" viewBox="0 0 79 98" preserveAspectRatio="none">
<defs><filter id="tbt3" x="-20%" y="-20%" width="140%" height="140%"><feGaussianBlur stdDeviation="1.3"/></filter>
<filter id="tst3" x="-20%" y="-20%" width="140%" height="140%"><feGaussianBlur stdDeviation="0.7"/></filter>
<linearGradient id="tgt3" x1="0" x2="1"><stop offset="0" stop-color="#1c060a"/><stop offset="0.7" stop-color="#2c0a12"/><stop offset="1" stop-color="#470d18"/></linearGradient>
<clipPath id="tct3"><rect width="79" height="98"/></clipPath></defs>
<g clip-path="url(#tct3)">
<rect width="79" height="98" fill="#050505"/>
<g filter="url(#tbt3)">
<path d="M0 98 L0 75 C8 73 16 71 22 67 L36 98Z" fill="#1b2a72"/>
<path d="M79 98 L79 73 C72 71 64 69 58 65 L46 98Z" fill="#1b2a72"/>
<path d="M21 68 L30 98 L62 98 L60 66 C50 78 34 78 21 68Z" fill="#f1efee"/>
<path d="M38 82 L46 80 L50 86 L46 98 L38 98 L42 88Z" fill="#c31230"/>
<path d="M15 40 C15 24 26 18 38 18 C52 18 61 26 61 42 C61 58 56 72 46 78 C40 81 34 81 29 77 C20 70 15 56 15 40Z" fill="#cf8a5a"/>
<ellipse cx="35" cy="46" rx="12" ry="19" fill="#dfa274"/>
<ellipse cx="54" cy="54" rx="6" ry="20" fill="#a8582a" opacity="0.55"/>
<ellipse cx="13.5" cy="46" rx="2.6" ry="6" fill="#c9733c"/>
<path d="M12 44 C5 22 18 4 40 3 C60 2 70 16 66 44 C64 30 56 21 40 22 C26 22 18 28 16 46Z" fill="#cbb58c"/>
<path d="M20 14 C30 6 50 6 60 12 C50 10 30 12 20 20Z" fill="#e2d4b2"/>
<path d="M11 42 C9 30 11 22 18 17 C16 26 15 34 16 48Z" fill="#9a8a66"/>
<path d="M66 42 C68 30 66 22 60 16 C63 26 63 34 62 44Z" fill="#a89468"/>
</g>
<g filter="url(#tst3)">
<ellipse cx="27.5" cy="38.5" rx="4" ry="1.5" fill="#3a2a26"/>
<ellipse cx="47" cy="38" rx="4" ry="1.5" fill="#3a2a26"/>
<path d="M22 35 Q28 32 34 35.5" stroke="#c9a262" stroke-width="1.6" fill="none"/>
<path d="M41 35 Q47 32 53 34.5" stroke="#c9a262" stroke-width="1.6" fill="none"/>
<path d="M33 52 Q37 54.5 42 52" stroke="#a55a28" stroke-width="1.5" fill="none"/>
<ellipse cx="38" cy="61" rx="7" ry="2.2" fill="#8a3a2e"/>
<ellipse cx="38.5" cy="60.6" rx="4.5" ry="0.9" fill="#e9d9cf"/>
</g></g></svg>
<svg style="left:93.2px;top:2381.5px" width="16.6" height="19.7" viewBox="0 0 79 98" preserveAspectRatio="none">
<defs><filter id="jbt3" x="-20%" y="-20%" width="140%" height="140%"><feGaussianBlur stdDeviation="1.2"/></filter>
<filter id="jst3" x="-20%" y="-20%" width="140%" height="140%"><feGaussianBlur stdDeviation="0.6"/></filter>
<clipPath id="jct3"><rect width="79" height="98"/></clipPath></defs>
<g clip-path="url(#jct3)">
<rect width="79" height="98" fill="#050505"/>
<g filter="url(#jbt3)">
<path d="M40 3 C20 3 10 20 8 40 C6 56 8 70 4 80 C14 84 24 82 30 78 L52 78 C60 82 68 84 76 78 C72 68 74 54 72 38 C70 16 58 3 40 3Z" fill="#2f1c10"/>
<path d="M24 12 C14 24 12 44 12 60 C16 44 20 26 34 14Z" fill="#563620"/>
<path d="M0 98 L0 84 C12 78 24 76 34 82 L40 98Z" fill="#2e2e32"/>
<path d="M79 98 L79 82 C68 76 56 76 48 82 L42 98Z" fill="#2e2e32"/>
<path d="M31 70 L51 70 L54 88 L40 96 L28 88Z" fill="#b87e58"/>
<ellipse cx="40.5" cy="43" rx="17" ry="26" fill="#c98f68"/>
<ellipse cx="39" cy="38" rx="10" ry="13" fill="#d8a480"/>
<path d="M22 36 C24 18 36 12 48 13 C38 18 30 28 26 46Z" fill="#2f1c10"/>
</g>
<g filter="url(#jst3)">
<ellipse cx="32" cy="38" rx="3.6" ry="1.4" fill="#1e120c"/>
<ellipse cx="48.5" cy="38" rx="3.6" ry="1.4" fill="#1e120c"/>
<path d="M28 34.5 Q32 32.8 36 34.5" stroke="#2a180e" stroke-width="1" fill="none"/>
<path d="M44.5 34.5 Q48.5 32.8 52.5 34.5" stroke="#2a180e" stroke-width="1" fill="none"/>
<path d="M33 55 Q40 62 48 55 Q40 57.5 33 55Z" fill="#f0e6e0" stroke="#8a4444" stroke-width="1"/>
<path d="M29 84 Q40 93 52 84" stroke="#1a1a1a" stroke-width="1.8" fill="none"/>
</g></g></svg>
<div style="left:49.3px;top:2408.2px;width:26.6px;height:4.9px;background:#2b4763;"></div>
<div style="left:99.9px;top:2408.2px;width:24.9px;height:4.9px;background:#c9c9c9;"></div>
<div style="left:78.4px;top:2409.7px;width:2.8px;height:1.9px;background:#333;opacity:0.8"></div>
<div style="left:94.6px;top:2409.7px;width:2.8px;height:1.9px;background:#333;opacity:0.8"></div>
<div style="left:84px;top:2410.1px;width:6px;height:1.1px;background:#777;opacity:0.6"></div>
<div style="left:50.6px;top:2415.1px;width:25.3px;height:5px;background:#2b4763;"></div>
<div style="left:99.9px;top:2415.1px;width:26.1px;height:5px;background:#c9c9c9;"></div>
<div style="left:78.4px;top:2416.6px;width:2.8px;height:1.9px;background:#333;opacity:0.8"></div>
<div style="left:94.6px;top:2416.6px;width:2.8px;height:1.9px;background:#333;opacity:0.8"></div>
<div style="left:84px;top:2417px;width:6px;height:1.1px;background:#777;opacity:0.6"></div>
<div style="left:310px;top:2357.2px;width:80.8px;height:81px;background:#efefef;"></div>
<svg style="left:333px;top:2429.8px" width="5" height="5" viewBox="0 0 14 14"><circle cx="7" cy="7" r="4.6" fill="none" stroke="#9aa3ad" stroke-width="1.6"/></svg>
<svg style="left:383px;top:2429.8px" width="6.2" height="6.2" viewBox="0 0 30 30">
<defs><radialGradient id="mlt2667" cx="0.5" cy="0.45" r="0.7"><stop offset="0" stop-color="#1c7fd6"/><stop offset="0.6" stop-color="#0b4fb4"/><stop offset="1" stop-color="#06257a"/></radialGradient></defs>
<rect x="0.4" y="0.3" width="29.2" height="29.2" rx="3.2" fill="url(#mlt2667)"/>
<path d="M6 19 A10.5 10.5 0 0 1 25.5 11.5" fill="none" stroke="#49b4f4" stroke-width="2.8" opacity="0.8"/>
<path d="M26 15 A10.8 10.8 0 0 1 8 23.5" fill="none" stroke="#2d8fe2" stroke-width="2.4" opacity="0.7"/>
<circle cx="14.9" cy="15" r="6.3" fill="#2b8fe4" stroke="#fff" stroke-width="1.2"/>
<path d="M12 13.9 L16.6 11.2 L16.6 18.6 L13.8 18.9 L13.8 15.4 L12 16.2 Z" fill="#fff"/>
</svg>
<div style="left:328.3px;top:2390.6px;width:2.6px;height:4.9px;background:#2b4763;"></div>
<div style="left:369.8px;top:2390.6px;width:17.7px;height:4.9px;background:#c9c9c9;"></div>
<div style="left:333.4px;top:2392.1px;width:2.8px;height:1.9px;background:#333;opacity:0.8"></div>
<div style="left:364.4px;top:2392.1px;width:2.8px;height:1.9px;background:#333;opacity:0.8"></div>
<div style="left:343px;top:2392.5px;width:13px;height:1.1px;background:#777;opacity:0.6"></div>
<div style="left:325.6px;top:2396.9px;width:5.3px;height:5px;background:#2b4763;"></div>
<div style="left:369.8px;top:2396.9px;width:18px;height:5px;background:#c9c9c9;"></div>
<div style="left:333.4px;top:2398.4px;width:2.8px;height:1.9px;background:#333;opacity:0.8"></div>
<div style="left:364.4px;top:2398.4px;width:2.8px;height:1.9px;background:#333;opacity:0.8"></div>
<div style="left:343px;top:2398.8px;width:13px;height:1.1px;background:#777;opacity:0.6"></div>
<div style="left:326.6px;top:2403.5px;width:4.3px;height:5px;background:#2b4763;"></div>
<div style="left:369.8px;top:2403.5px;width:16px;height:5px;background:#c9c9c9;"></div>
<div style="left:333.4px;top:2405px;width:2.8px;height:1.9px;background:#333;opacity:0.8"></div>
<div style="left:364.4px;top:2405px;width:2.8px;height:1.9px;background:#333;opacity:0.8"></div>
<div style="left:343px;top:2405.4px;width:13px;height:1.1px;background:#777;opacity:0.6"></div>
<div style="left:324px;top:2410.2px;width:6.9px;height:5.3px;background:#2b4763;"></div>
<div style="left:369.8px;top:2410.2px;width:15.3px;height:5.3px;background:#c9c9c9;"></div>
<div style="left:333.4px;top:2411.7px;width:2.8px;height:1.9px;background:#333;opacity:0.8"></div>
<div style="left:364.4px;top:2411.7px;width:2.8px;height:1.9px;background:#333;opacity:0.8"></div>
<div style="left:343px;top:2412.1px;width:13px;height:1.1px;background:#777;opacity:0.6"></div>
<div style="left:326px;top:2417.2px;width:4.9px;height:5px;background:#2b4763;"></div>
<div style="left:369.8px;top:2417.2px;width:14px;height:5px;background:#c9c9c9;"></div>
<div style="left:333.4px;top:2418.7px;width:2.8px;height:1.9px;background:#333;opacity:0.8"></div>
<div style="left:364.4px;top:2418.7px;width:2.8px;height:1.9px;background:#333;opacity:0.8"></div>
<div style="left:343px;top:2419.1px;width:13px;height:1.1px;background:#777;opacity:0.6"></div>
<div style="left:321px;top:2386.6px;width:9px;height:1px;background:#777;opacity:0.5"></div>
<div style="left:370px;top:2386.6px;width:11px;height:1px;background:#777;opacity:0.5"></div>
<svg style="left:90px;top:2510px" width="130" height="130" viewBox="0 0 130 130"><path d="M64.50 3.40 A61.1 61.1 0 0 1 70.46 125.31 L68.27 102.92 A38.6 38.6 0 0 0 64.50 25.90 Z" fill="#d61f2a"/><path d="M70.46 125.31 A61.1 61.1 0 0 1 49.51 123.73 L55.03 101.92 A38.6 38.6 0 0 0 68.27 102.92 Z" fill="#e2e2e2"/><path d="M49.51 123.73 A61.1 61.1 0 0 1 64.50 3.40 L64.50 25.90 A38.6 38.6 0 0 0 55.03 101.92 Z" fill="#0a3fc6"/><line x1="64.5" y1="103.5" x2="64.5" y2="125.8" stroke="#444" stroke-width="0.9" stroke-dasharray="1 1"/></svg>
<svg style="left:270px;top:2524px" width="60" height="60" viewBox="0 0 60 60"><circle cx="30.1" cy="30.5" r="23.9" fill="#fff" stroke="#0a3fc6" stroke-width="5.2"/><path d="M20.5 17.5 L30 17.5 C39 17.5 43.5 23 43.5 30.5 C43.5 38 39 43.5 30 43.5 L20.5 43.5 Z M27 23 L27 38 L30 38 C34.5 38 36.8 35 36.8 30.5 C36.8 26 34.5 23 30 23 Z" fill="#0a3fc6" fill-rule="evenodd"/></svg>
<svg style="left:384.8px;top:2531px" width="24" height="48" viewBox="0 0 24 48"><path d="M4.2 13.6 C4.2 1.2 19.8 1.2 19.8 12.6 C19.8 21.5 11.8 21 11.8 32.4" fill="none" stroke="#d2d2d2" stroke-width="7.6"/><rect x="7.6" y="37.6" width="8.4" height="9.2" rx="1.5" fill="#d2d2d2"/></svg>
<div style="left:445.9px;top:2533.1px;width:96.4px;height:43.5px;background:#d6112c;"></div>
<svg style="left:523px;top:2557px" width="10" height="10" viewBox="0 0 10 10"><circle cx="4.6" cy="4.9" r="3.7" fill="#fff"/><path d="M2.6 5.6 C2.6 3.8 6.6 3.8 6.6 5.6 L6.6 6.8 L5.6 6.8 L5.6 6 L3.6 6 L3.6 6.8 L2.6 6.8Z" fill="#d6112c"/></svg>
<div style="left:251.5px;top:2587.3px;width:291.5px;height:1px;background:#e6e6e6;"></div>
<div style="left:251.5px;top:2615.2px;width:291.5px;height:1px;background:#e6e6e6;"></div>
<div style="left:57px;top:2661.1px;width:486px;height:1px;background:#e6e6e6;"></div>
<div style="left:57.3px;top:2669.1px;width:25.8px;height:12.9px;background:#0b5a9e;border-radius:1.5px;"></div>
<div style="left:87.65px;top:2669.1px;width:25.8px;height:12.9px;background:#e6e6e6;border-radius:1.5px;"></div>
<div style="left:118px;top:2669.1px;width:25.8px;height:12.9px;background:#e6e6e6;border-radius:1.5px;"></div>
<div style="left:148.35px;top:2669.1px;width:25.8px;height:12.9px;background:#e6e6e6;border-radius:1.5px;"></div>
<div style="left:178.7px;top:2669.1px;width:25.8px;height:12.9px;background:#e6e6e6;border-radius:1.5px;"></div>
<div style="left:48px;top:3395.8px;width:504.7px;height:1px;background:#ececec;"></div>
<div style="left:48px;top:3416.7px;width:504.7px;height:1px;background:#ececec;"></div>
<div style="left:48px;top:3437.7px;width:504.7px;height:1px;background:#ececec;"></div>
<div style="left:48px;top:3458.6px;width:504.7px;height:1px;background:#ececec;"></div>
<div style="left:48px;top:3478.9px;width:504.7px;height:1px;background:#ececec;"></div>
<svg style="left:538.4px;top:3403px" width="11" height="7" viewBox="0 0 11 7"><path d="M1 1 L5.5 5.5 L10 1" fill="none" stroke="#555" stroke-width="1"/></svg>
<svg style="left:538.4px;top:3423.9px" width="11" height="7" viewBox="0 0 11 7"><path d="M1 1 L5.5 5.5 L10 1" fill="none" stroke="#555" stroke-width="1"/></svg>
<svg style="left:538.4px;top:3444.8px" width="11" height="7" viewBox="0 0 11 7"><path d="M1 1 L5.5 5.5 L10 1" fill="none" stroke="#555" stroke-width="1"/></svg>
<svg style="left:538.4px;top:3465.7px" width="11" height="7" viewBox="0 0 11 7"><path d="M1 1 L5.5 5.5 L10 1" fill="none" stroke="#555" stroke-width="1"/></svg>
<svg style="left:532px;top:3620px" width="22" height="22" viewBox="0 0 22 22"><path d="M5.6 5.2 A8.3 8.3 0 1 1 5.6 17.2" fill="none" stroke="#222" stroke-width="1.5"/><path d="M6.2 9.6 L12.4 6.4 L12.4 16.2 L8.6 16.2 L8.6 11.8 L6.2 13 Z" fill="#222"/></svg>
<span style="top:10.44px;font-size:17.2px;color:#333;transform:scaleX(0.8800);transform-origin:0 0;left:83.00px;">tages</span>
<span style="top:10.44px;font-size:17.2px;color:#222;font-weight:700;transform:scaleX(0.7346);transform-origin:0 0;left:120.30px;">schau</span>
<span style="top:14.59px;font-size:9.7px;color:#333;transform:scaleX(0.8744);transform-origin:0 0;left:252.30px;">Sendung verpasst?</span>
<span style="top:44.83px;font-size:8px;color:#333;transform:scaleX(0.9232);transform-origin:0 0;left:53.80px;">Startseite</span>
<span style="top:44.83px;font-size:8px;color:#333;transform:scaleX(0.8990);transform-origin:0 0;left:99.00px;">Ausland</span>
<span style="top:44.83px;font-size:8px;color:#333;transform:scaleX(0.9143);transform-origin:0 0;left:138.30px;">US-Wahl 2024</span>
<span style="top:44.83px;font-size:8px;color:#333;transform:scaleX(0.8875);transform-origin:0 0;left:199.70px;">US-Wahl 2024: Die Ergebnisse</span>
<span style="top:69.44px;font-size:18.5px;color:#1f6aa6;transform:scaleX(1.0159);transform-origin:0 0;left:233.85px;">US-WAHL 2024</span>
<span style="top:109.53px;font-size:8px;color:#333;transform:scaleX(1.0208);transform-origin:0 0;left:135.30px;">Startseite</span>
<span style="top:109.53px;font-size:8px;color:#111;font-weight:700;transform:scaleX(0.8808);transform-origin:0 0;left:184.60px;">Ergebnisse</span>
<span style="top:109.53px;font-size:8px;color:#333;left:237.00px;">Kandidaten</span>
<span style="top:109.53px;font-size:8px;color:#333;transform:scaleX(0.9878);transform-origin:0 0;left:292.00px;">Themen</span>
<span style="top:109.53px;font-size:8px;color:#333;transform:scaleX(1.0171);transform-origin:0 0;left:335.70px;">Vorwahlen</span>
<span style="top:109.53px;font-size:8px;color:#333;transform:scaleX(0.9367);transform-origin:0 0;left:389.00px;">Wahl-ABC</span>
<span style="top:160.24px;font-size:18.5px;color:#1f6aa6;transform:scaleX(0.9061);transform-origin:0 0;left:246.20px;">ERGEBNISSE</span>
<span style="top:192.60px;font-size:10.4px;color:#333;transform:scaleX(0.9292);transform-origin:0 0;left:131.40px;">US-Wahl 2024 - So haben die einzelnen US-Bundesstaaten gewählt: Die</span>
<span style="top:204.95px;font-size:10.4px;color:#333;transform:scaleX(0.9199);transform-origin:0 0;left:131.40px;">Ergebnisse der Präsidentschaftswahl und der Wahlen zum Senat und</span>
<span style="top:217.30px;font-size:10.4px;color:#333;transform:scaleX(0.9448);transform-origin:0 0;left:131.40px;">Repräsentantenhaus in interaktiven Grafiken.</span>
<span style="top:272.64px;font-size:18.5px;color:#1f6aa6;transform:scaleX(0.9633);transform-origin:0 0;left:182.30px;">PRÄSIDENTSCHAFTSWAHL</span>
<span style="top:305.07px;font-size:7.6px;color:#333;transform:scaleX(1.0351);transform-origin:0 0;left:242.25px;">Mehrheit: 270 Stimmen, offen: 11</span>
<span style="top:405.89px;font-size:8.4px;color:#333;transform:scaleX(0.8386);transform-origin:0 0;left:59.00px;">Kamala Harris</span>
<span style="top:405.89px;font-size:8.4px;color:#333;transform:scaleX(0.8554);transform-origin:0 0;left:496.50px;">Donald Trump</span>
<span style="top:424.47px;font-size:9.6px;color:#fff;transform:scaleX(1.0302);transform-origin:0 0;left:59.50px;">226</span>
<span style="top:424.47px;font-size:9.6px;color:#fff;transform:scaleX(1.0302);transform-origin:0 0;left:524.00px;">301</span>
<span style="top:453.71px;font-size:7.2px;color:#333;transform:scaleX(0.9031);transform-origin:0 0;left:451.00px;">Quelle: NEP/Edison via Reuters</span>
<span style="top:494.13px;font-size:11.9px;color:#1f6aa6;transform:scaleX(1.0392);transform-origin:0 0;left:131.40px;">Ergebnisse in den Bundesstaaten</span>
<span style="top:516.80px;font-size:10.4px;color:#333;transform:scaleX(0.9409);transform-origin:0 0;left:131.40px;">Die Präsidentschaftswahl entscheidet sich letztlich im Electoral College, in</span>
<span style="top:529.28px;font-size:10.4px;color:#333;transform:scaleX(0.9384);transform-origin:0 0;left:131.40px;">das die Bundesstaaten abhängig von ihrer Bevölkerungszahl unterschiedlich</span>
<span style="top:541.76px;font-size:10.4px;color:#333;transform:scaleX(0.9564);transform-origin:0 0;left:131.40px;">viele Wahlleute entsenden dürfen. Die Präsidentschaftswahl ist damit</span>
<span style="top:554.24px;font-size:10.4px;color:#333;transform:scaleX(0.9353);transform-origin:0 0;left:131.40px;">letztlich das Ergebnis einer Summe von Einzelwahlen in den Bundesstaaten.</span>
<span style="top:566.72px;font-size:10.4px;color:#333;transform:scaleX(0.9302);transform-origin:0 0;left:131.40px;">Die Ergebnisse in den Bundesstaaten im Detail.</span>
<span style="top:601.24px;font-size:9.4px;color:#222;font-weight:700;transform:scaleX(0.9661);transform-origin:0 0;left:47.00px;">Präsidentschaftswahl 2024</span>
<span style="top:641.55px;font-size:7.5px;color:#fff;font-weight:700;transform:scaleX(0.8700);transform-origin:0 0;left:139.24px;">WA</span>
<span style="top:672.15px;font-size:7.5px;color:#fff;font-weight:700;transform:scaleX(0.8700);transform-origin:0 0;left:124.91px;">OR</span>
<span style="top:747.35px;font-size:7.5px;color:#fff;font-weight:700;transform:scaleX(0.8700);transform-origin:0 0;left:115.18px;">CA</span>
<span style="top:725.35px;font-size:7.5px;color:#fff;font-weight:700;transform:scaleX(0.8700);transform-origin:0 0;left:143.97px;">NV</span>
<span style="top:686.15px;font-size:7.5px;color:#fff;font-weight:700;transform:scaleX(0.8700);transform-origin:0 0;left:171.74px;">ID</span>
<span style="top:659.55px;font-size:7.5px;color:#fff;font-weight:700;transform:scaleX(0.8700);transform-origin:0 0;left:207.58px;">MT</span>
<span style="top:699.45px;font-size:7.5px;color:#fff;font-weight:700;transform:scaleX(0.8700);transform-origin:0 0;left:216.34px;">WY</span>
<span style="top:736.75px;font-size:7.5px;color:#fff;font-weight:700;transform:scaleX(0.8700);transform-origin:0 0;left:180.65px;">UT</span>
<span style="top:742.65px;font-size:7.5px;color:#fff;font-weight:700;transform:scaleX(0.8700);transform-origin:0 0;left:226.11px;">CO</span>
<span style="top:782.55px;font-size:7.5px;color:#fff;font-weight:700;transform:scaleX(0.8700);transform-origin:0 0;left:173.35px;">AZ</span>
<span style="top:784.55px;font-size:7.5px;color:#fff;font-weight:700;transform:scaleX(0.8700);transform-origin:0 0;left:218.52px;">NM</span>
<span style="top:660.85px;font-size:7.5px;color:#fff;font-weight:700;transform:scaleX(0.8700);transform-origin:0 0;left:269.48px;">ND</span>
<span style="top:690.85px;font-size:7.5px;color:#fff;font-weight:700;transform:scaleX(0.8700);transform-origin:0 0;left:268.97px;">SD</span>
<span style="top:720.05px;font-size:7.5px;color:#fff;font-weight:700;transform:scaleX(0.8700);transform-origin:0 0;left:262.97px;">NE</span>
<span style="top:748.65px;font-size:7.5px;color:#fff;font-weight:700;transform:scaleX(0.8700);transform-origin:0 0;left:283.57px;">KS</span>
<span style="top:781.95px;font-size:7.5px;color:#fff;font-weight:700;transform:scaleX(0.8700);transform-origin:0 0;left:289.91px;">OK</span>
<span style="top:816.55px;font-size:7.5px;color:#fff;font-weight:700;transform:scaleX(0.8700);transform-origin:0 0;left:274.63px;">TX</span>
<span style="top:673.55px;font-size:7.5px;color:#fff;font-weight:700;transform:scaleX(0.8700);transform-origin:0 0;left:311.62px;">MN</span>
<span style="top:712.75px;font-size:7.5px;color:#fff;font-weight:700;transform:scaleX(0.8700);transform-origin:0 0;left:322.14px;">IA</span>
<span style="top:688.85px;font-size:7.5px;color:#fff;font-weight:700;transform:scaleX(0.8700);transform-origin:0 0;left:344.51px;">WI</span>
<span style="top:704.15px;font-size:7.5px;color:#fff;font-weight:700;transform:scaleX(0.8700);transform-origin:0 0;left:382.77px;">MI</span>
<span style="top:732.05px;font-size:7.5px;color:#fff;font-weight:700;transform:scaleX(0.8700);transform-origin:0 0;left:355.60px;">IL</span>
<span style="top:730.05px;font-size:7.5px;color:#fff;font-weight:700;transform:scaleX(0.8700);transform-origin:0 0;left:379.14px;">IN</span>
<span style="top:727.35px;font-size:7.5px;color:#fff;font-weight:700;transform:scaleX(0.8700);transform-origin:0 0;left:400.11px;">OH</span>
<span style="top:712.95px;font-size:7.5px;color:#fff;font-weight:700;transform:scaleX(0.8700);transform-origin:0 0;left:440.60px;">PA</span>
<span style="top:690.15px;font-size:7.5px;color:#fff;font-weight:700;transform:scaleX(0.8700);transform-origin:0 0;left:451.97px;">NY</span>
<span style="top:651.35px;font-size:7.5px;color:#fff;font-weight:700;transform:scaleX(0.8700);transform-origin:0 0;left:484.41px;">ME</span>
<span style="top:740.85px;font-size:7.5px;color:#fff;font-weight:700;transform:scaleX(0.8700);transform-origin:0 0;left:415.24px;">WV</span>
<span style="top:747.05px;font-size:7.5px;color:#fff;font-weight:700;transform:scaleX(0.8700);transform-origin:0 0;left:441.30px;">VA</span>
<span style="top:753.95px;font-size:7.5px;color:#fff;font-weight:700;transform:scaleX(0.8700);transform-origin:0 0;left:393.87px;">KY</span>
<span style="top:751.95px;font-size:7.5px;color:#fff;font-weight:700;transform:scaleX(0.8700);transform-origin:0 0;left:329.94px;">MO</span>
<span style="top:773.95px;font-size:7.5px;color:#fff;font-weight:700;transform:scaleX(0.8700);transform-origin:0 0;left:380.05px;">TN</span>
<span style="top:766.35px;font-size:7.5px;color:#fff;font-weight:700;transform:scaleX(0.8700);transform-origin:0 0;left:439.28px;">NC</span>
<span style="top:787.95px;font-size:7.5px;color:#fff;font-weight:700;transform:scaleX(0.8700);transform-origin:0 0;left:428.47px;">SC</span>
<span style="top:785.95px;font-size:7.5px;color:#fff;font-weight:700;transform:scaleX(0.8700);transform-origin:0 0;left:330.48px;">AR</span>
<span style="top:803.25px;font-size:7.5px;color:#fff;font-weight:700;transform:scaleX(0.8700);transform-origin:0 0;left:355.61px;">MS</span>
<span style="top:803.25px;font-size:7.5px;color:#fff;font-weight:700;transform:scaleX(0.8700);transform-origin:0 0;left:380.05px;">AL</span>
<span style="top:803.25px;font-size:7.5px;color:#fff;font-weight:700;transform:scaleX(0.8700);transform-origin:0 0;left:408.11px;">GA</span>
<span style="top:817.15px;font-size:7.5px;color:#fff;font-weight:700;transform:scaleX(0.8700);transform-origin:0 0;left:332.15px;">LA</span>
<span style="top:851.05px;font-size:7.5px;color:#fff;font-weight:700;transform:scaleX(0.8700);transform-origin:0 0;left:435.61px;">FL</span>
<span style="top:665.55px;font-size:7.5px;color:#fff;font-weight:700;transform:scaleX(0.8700);transform-origin:0 0;left:463.03px;">VT</span>
<span style="top:672.25px;font-size:7.5px;color:#fff;font-weight:700;transform:scaleX(0.8700);transform-origin:0 0;left:471.78px;">NH</span>
<span style="top:682.85px;font-size:7.5px;color:#fff;font-weight:700;transform:scaleX(0.8700);transform-origin:0 0;left:475.72px;">MA</span>
<span style="top:692.15px;font-size:7.5px;color:#fff;font-weight:700;transform:scaleX(0.8700);transform-origin:0 0;left:470.85px;">CT</span>
<span style="top:713.15px;font-size:7.5px;color:#fff;font-weight:700;transform:scaleX(0.8700);transform-origin:0 0;left:461.63px;">NJ</span>
<span style="top:708.45px;font-size:7.5px;color:#fff;font-weight:700;transform:scaleX(0.8700);transform-origin:0 0;left:493.94px;">RI</span>
<span style="top:726.95px;font-size:7.5px;color:#fff;font-weight:700;transform:scaleX(0.8700);transform-origin:0 0;left:492.67px;">DE</span>
<span style="top:745.35px;font-size:7.5px;color:#fff;font-weight:700;transform:scaleX(0.8700);transform-origin:0 0;left:492.12px;">MD</span>
<span style="top:763.65px;font-size:7.5px;color:#fff;font-weight:700;transform:scaleX(0.8700);transform-origin:0 0;left:492.48px;">DC</span>
<span style="top:844.35px;font-size:7.5px;color:#fff;font-weight:700;transform:scaleX(0.8700);transform-origin:0 0;left:122.18px;">AK</span>
<span style="top:869.05px;font-size:7.5px;color:#fff;font-weight:700;transform:scaleX(0.8700);transform-origin:0 0;left:219.04px;">HI</span>
<span style="top:897.01px;font-size:7.2px;color:#333;transform:scaleX(1.0603);transform-origin:0 0;left:131.50px;">Noch nicht ausgezählt</span>
<span style="top:897.01px;font-size:7.2px;color:#333;transform:scaleX(1.0441);transform-origin:0 0;left:225.00px;">Auszählung läuft</span>
<span style="top:897.01px;font-size:7.2px;color:#333;transform:scaleX(1.0623);transform-origin:0 0;left:301.00px;">Kopf-an-Kopf</span>
<span style="top:897.01px;font-size:7.2px;color:#333;transform:scaleX(1.0319);transform-origin:0 0;left:365.00px;">Kamala Harris</span>
<span style="top:897.01px;font-size:7.2px;color:#333;transform:scaleX(1.0630);transform-origin:0 0;left:431.00px;">Donald Trump</span>
<span style="top:915.07px;font-size:7px;color:#333;transform:scaleX(0.9272);transform-origin:0 0;left:47.00px;">Quelle: NEP/Edison via Reuters</span>
<span style="top:955.53px;font-size:11.9px;color:#1f6aa6;transform:scaleX(1.0384);transform-origin:0 0;left:131.40px;">Ergebnisse nach Größe der Bundesstaaten</span>
<span style="top:978.70px;font-size:10.4px;color:#333;transform:scaleX(0.9458);transform-origin:0 0;left:131.40px;">Diese Darstellung veranschaulicht die unterschiedliche Bedeutung der</span>
<span style="top:991.30px;font-size:10.4px;color:#333;transform:scaleX(0.9360);transform-origin:0 0;left:131.40px;">Bundesstaaten für den Wahlausgang. Größere Kreise stehen für eine höhere</span>
<span style="top:1003.90px;font-size:10.4px;color:#333;transform:scaleX(0.9305);transform-origin:0 0;left:131.40px;">Zahl von Wahlleuten, die die Bundesstaaten in das Electoral College</span>
<span style="top:1016.50px;font-size:10.4px;color:#333;transform:scaleX(0.9432);transform-origin:0 0;left:131.40px;">entsenden. In den meisten Bundesstaaten gehen alle Stimmen der Wahlleute</span>
<span style="top:1029.10px;font-size:10.4px;color:#333;transform:scaleX(0.9525);transform-origin:0 0;left:131.40px;">an den Präsidentschaftskandidaten oder die Präsidentschaftskandidatin mit</span>
<span style="top:1041.70px;font-size:10.4px;color:#333;transform:scaleX(0.9509);transform-origin:0 0;left:131.40px;">den meisten Stimmen.</span>
<span style="top:1075.54px;font-size:9.4px;color:#222;font-weight:700;transform:scaleX(0.9661);transform-origin:0 0;left:47.00px;">Präsidentschaftswahl 2024</span>
<span style="top:1186.58px;font-size:9.3px;color:#fff;font-weight:700;transform:scaleX(0.9300);transform-origin:0 0;left:146.13px;">WA</span>
<span style="top:1186.48px;font-size:9.3px;color:#fff;font-weight:700;transform:scaleX(0.9300);transform-origin:0 0;left:184.75px;">MT</span>
<span style="top:1189.88px;font-size:9.3px;color:#fff;font-weight:700;transform:scaleX(0.9300);transform-origin:0 0;left:222.05px;">ND</span>
<span style="top:1193.88px;font-size:9.3px;color:#fff;font-weight:700;transform:scaleX(0.9300);transform-origin:0 0;left:256.07px;">MN</span>
<span style="top:1197.18px;font-size:9.3px;color:#fff;font-weight:700;transform:scaleX(0.9300);transform-origin:0 0;left:297.52px;">WI</span>
<span style="top:1219.18px;font-size:9.3px;color:#fff;font-weight:700;transform:scaleX(0.9300);transform-origin:0 0;left:124.71px;">OR</span>
<span style="top:1216.48px;font-size:9.3px;color:#fff;font-weight:700;transform:scaleX(0.9300);transform-origin:0 0;left:173.37px;">ID</span>
<span style="top:1219.78px;font-size:9.3px;color:#fff;font-weight:700;transform:scaleX(0.9300);transform-origin:0 0;left:190.03px;">WY</span>
<span style="top:1212.48px;font-size:9.3px;color:#fff;font-weight:700;transform:scaleX(0.9300);transform-origin:0 0;left:222.29px;">SD</span>
<span style="top:1233.08px;font-size:9.3px;color:#fff;font-weight:700;transform:scaleX(0.9300);transform-origin:0 0;left:259.87px;">IA</span>
<span style="top:1241.78px;font-size:9.3px;color:#fff;font-weight:700;transform:scaleX(0.9300);transform-origin:0 0;left:299.56px;">IL</span>
<span style="top:1251.08px;font-size:9.3px;color:#fff;font-weight:700;transform:scaleX(0.9300);transform-origin:0 0;left:156.39px;">NV</span>
<span style="top:1249.78px;font-size:9.3px;color:#fff;font-weight:700;transform:scaleX(0.9300);transform-origin:0 0;left:183.93px;">UT</span>
<span style="top:1243.08px;font-size:9.3px;color:#fff;font-weight:700;transform:scaleX(0.9300);transform-origin:0 0;left:223.59px;">NE</span>
<span style="top:1263.68px;font-size:9.3px;color:#fff;font-weight:700;transform:scaleX(0.9300);transform-origin:0 0;left:109.65px;">CA</span>
<span style="top:1272.98px;font-size:9.3px;color:#fff;font-weight:700;transform:scaleX(0.9300);transform-origin:0 0;left:197.81px;">CO</span>
<span style="top:1272.38px;font-size:9.3px;color:#fff;font-weight:700;transform:scaleX(0.9300);transform-origin:0 0;left:228.89px;">KS</span>
<span style="top:1274.38px;font-size:9.3px;color:#fff;font-weight:700;transform:scaleX(0.9300);transform-origin:0 0;left:273.83px;">MO</span>
<span style="top:1296.98px;font-size:9.3px;color:#fff;font-weight:700;transform:scaleX(0.9300);transform-origin:0 0;left:159.93px;">AZ</span>
<span style="top:1312.28px;font-size:9.3px;color:#fff;font-weight:700;transform:scaleX(0.9300);transform-origin:0 0;left:190.97px;">NM</span>
<span style="top:1305.58px;font-size:9.3px;color:#fff;font-weight:700;transform:scaleX(0.9300);transform-origin:0 0;left:231.11px;">OK</span>
<span style="top:1302.28px;font-size:9.3px;color:#fff;font-weight:700;transform:scaleX(0.9300);transform-origin:0 0;left:271.85px;">AR</span>
<span style="top:1298.28px;font-size:9.3px;color:#fff;font-weight:700;transform:scaleX(0.9300);transform-origin:0 0;left:311.63px;">TN</span>
<span style="top:1335.48px;font-size:9.3px;color:#fff;font-weight:700;transform:scaleX(0.9300);transform-origin:0 0;left:273.03px;">LA</span>
<span style="top:1326.88px;font-size:9.3px;color:#fff;font-weight:700;transform:scaleX(0.9300);transform-origin:0 0;left:306.91px;">MS</span>
<span style="top:1349.48px;font-size:9.3px;color:#fff;font-weight:700;transform:scaleX(0.9300);transform-origin:0 0;left:232.67px;">TX</span>
<span style="top:1362.18px;font-size:9.3px;color:#fff;font-weight:700;transform:scaleX(0.9300);transform-origin:0 0;left:107.65px;">AK</span>
<span style="top:1361.48px;font-size:9.3px;color:#fff;font-weight:700;transform:scaleX(0.9300);transform-origin:0 0;left:173.37px;">HI</span>
<span style="top:1110.08px;font-size:9.3px;color:#fff;font-weight:700;transform:scaleX(0.9300);transform-origin:0 0;left:493.61px;">ME</span>
<span style="top:1125.38px;font-size:9.3px;color:#fff;font-weight:700;transform:scaleX(0.9300);transform-origin:0 0;left:463.37px;">VT</span>
<span style="top:1130.08px;font-size:9.3px;color:#fff;font-weight:700;transform:scaleX(0.9300);transform-origin:0 0;left:481.95px;">NH</span>
<span style="top:1149.98px;font-size:9.3px;color:#fff;font-weight:700;transform:scaleX(0.9300);transform-origin:0 0;left:435.59px;">NY</span>
<span style="top:1155.28px;font-size:9.3px;color:#fff;font-weight:700;transform:scaleX(0.9300);transform-origin:0 0;left:478.07px;">MA</span>
<span style="top:1184.58px;font-size:9.3px;color:#fff;font-weight:700;transform:scaleX(0.9300);transform-origin:0 0;left:463.73px;">CT</span>
<span style="top:1182.58px;font-size:9.3px;color:#fff;font-weight:700;transform:scaleX(0.9300);transform-origin:0 0;left:489.17px;">RI</span>
<span style="top:1187.28px;font-size:9.3px;color:#fff;font-weight:700;transform:scaleX(0.9300);transform-origin:0 0;left:398.71px;">PA</span>
<span style="top:1197.88px;font-size:9.3px;color:#fff;font-weight:700;transform:scaleX(0.9300);transform-origin:0 0;left:438.07px;">NJ</span>
<span style="top:1199.18px;font-size:9.3px;color:#fff;font-weight:700;transform:scaleX(0.9300);transform-origin:0 0;left:341.70px;">MI</span>
<span style="top:1223.78px;font-size:9.3px;color:#fff;font-weight:700;transform:scaleX(0.9300);transform-origin:0 0;left:442.29px;">DE</span>
<span style="top:1225.78px;font-size:9.3px;color:#fff;font-weight:700;transform:scaleX(0.9300);transform-origin:0 0;left:403.67px;">MD</span>
<span style="top:1229.78px;font-size:9.3px;color:#fff;font-weight:700;transform:scaleX(0.9300);transform-origin:0 0;left:369.91px;">OH</span>
<span style="top:1241.78px;font-size:9.3px;color:#fff;font-weight:700;transform:scaleX(0.9300);transform-origin:0 0;left:338.17px;">IN</span>
<span style="top:1257.78px;font-size:9.3px;color:#fff;font-weight:700;transform:scaleX(0.9300);transform-origin:0 0;left:406.61px;">VA</span>
<span style="top:1267.08px;font-size:9.3px;color:#fff;font-weight:700;transform:scaleX(0.9300);transform-origin:0 0;left:363.43px;">WV</span>
<span style="top:1273.68px;font-size:9.3px;color:#fff;font-weight:700;transform:scaleX(0.9300);transform-origin:0 0;left:335.19px;">KY</span>
<span style="top:1294.28px;font-size:9.3px;color:#fff;font-weight:700;transform:scaleX(0.9300);transform-origin:0 0;left:399.45px;">NC</span>
<span style="top:1308.28px;font-size:9.3px;color:#fff;font-weight:700;transform:scaleX(0.9300);transform-origin:0 0;left:358.01px;">GA</span>
<span style="top:1325.58px;font-size:9.3px;color:#fff;font-weight:700;transform:scaleX(0.9300);transform-origin:0 0;left:390.99px;">SC</span>
<span style="top:1333.58px;font-size:9.3px;color:#fff;font-weight:700;transform:scaleX(0.9300);transform-origin:0 0;left:336.73px;">AL</span>
<span style="top:1368.18px;font-size:9.3px;color:#fff;font-weight:700;transform:scaleX(0.9300);transform-origin:0 0;left:388.42px;">FL</span>
<span style="top:1420.71px;font-size:7.2px;color:#333;transform:scaleX(1.0603);transform-origin:0 0;left:131.50px;">Noch nicht ausgezählt</span>
<span style="top:1420.71px;font-size:7.2px;color:#333;transform:scaleX(1.0441);transform-origin:0 0;left:225.00px;">Auszählung läuft</span>
<span style="top:1420.71px;font-size:7.2px;color:#333;transform:scaleX(1.0623);transform-origin:0 0;left:301.00px;">Kopf-an-Kopf</span>
<span style="top:1420.71px;font-size:7.2px;color:#333;transform:scaleX(1.0319);transform-origin:0 0;left:365.00px;">Kamala Harris</span>
<span style="top:1420.71px;font-size:7.2px;color:#333;transform:scaleX(1.0630);transform-origin:0 0;left:431.00px;">Donald Trump</span>
<span style="top:1439.07px;font-size:7px;color:#333;transform:scaleX(0.9272);transform-origin:0 0;left:47.00px;">Quelle: NEP/Edison via Reuters</span>
<span style="top:1486.43px;font-size:11.9px;color:#1f6aa6;transform:scaleX(1.0504);transform-origin:0 0;left:131.40px;">Umfragen zu Gründen des Wahlergebnisses</span>
<span style="top:1510.10px;font-size:10.4px;color:#333;transform:scaleX(0.9386);transform-origin:0 0;left:131.40px;">In Befragungen vor und nach der Wahl haben US-Forschungsinstitute die</span>
<span style="top:1522.74px;font-size:10.4px;color:#333;transform:scaleX(0.9363);transform-origin:0 0;left:131.40px;">Gründe für das Abschneiden von Donald Trump und Kamala Harris</span>
<span style="top:1535.38px;font-size:10.4px;color:#333;transform:scaleX(0.9519);transform-origin:0 0;left:131.40px;">untersucht und auch nach den Gründen für die Wahlentscheidung und die</span>
<span style="top:1548.02px;font-size:10.4px;color:#333;transform:scaleX(0.9493);transform-origin:0 0;left:131.40px;">Stimmung im Land gefragt. Die Ergebnisse liefern wichtige Anhaltspunkte zu</span>
<span style="top:1560.66px;font-size:10.4px;color:#333;transform:scaleX(0.9282);transform-origin:0 0;left:131.40px;">den Ursachen des Ergebnisses und zum Wahlverhalten der verschiedenen</span>
<span style="top:1573.30px;font-size:10.4px;color:#333;transform:scaleX(0.9319);transform-origin:0 0;left:131.40px;">Bevölkerungsgruppen.</span>
<span style="top:1621.38px;font-size:11.6px;color:#222;font-weight:700;transform:scaleX(1.0623);transform-origin:0 0;left:67.60px;">US-Wahl 2024</span>
<span style="top:1641.48px;font-size:14.2px;color:#222;transform:scaleX(1.0990);transform-origin:0 0;left:67.60px;">Wahlverhalten in Bevölkerungsgruppen</span>
<span style="top:1741.84px;font-size:7.4px;color:#333;transform:scaleX(1.0650);transform-origin:0 0;left:252.20px;">Harris</span>
<span style="top:1741.84px;font-size:7.4px;color:#333;transform:scaleX(1.0580);transform-origin:0 0;left:326.40px;">Trump</span>
<span style="top:1768.07px;font-size:10.2px;color:#222;font-weight:700;transform:scaleX(0.9873);transform-origin:0 0;left:256.90px;">41</span>
<span style="top:1768.07px;font-size:10.2px;color:#222;font-weight:700;transform:scaleX(0.9873);transform-origin:0 0;left:331.40px;">57</span>
<span style="top:1769.35px;font-size:7.5px;color:#444;font-weight:700;transform:scaleX(1.0112);transform-origin:0 0;left:288.90px;">Weiße</span>
<span style="top:1803.02px;font-size:10.2px;color:#222;font-weight:700;transform:scaleX(0.9873);transform-origin:0 0;left:256.90px;">85</span>
<span style="top:1803.02px;font-size:10.2px;color:#222;font-weight:700;transform:scaleX(0.9873);transform-origin:0 0;left:331.40px;">13</span>
<span style="top:1804.30px;font-size:7.5px;color:#444;font-weight:700;transform:scaleX(0.9391);transform-origin:0 0;left:283.75px;">Schwarze</span>
<span style="top:1837.77px;font-size:10.2px;color:#222;font-weight:700;transform:scaleX(0.9873);transform-origin:0 0;left:256.90px;">52</span>
<span style="top:1837.77px;font-size:10.2px;color:#222;font-weight:700;transform:scaleX(0.9873);transform-origin:0 0;left:331.40px;">46</span>
<span style="top:1839.05px;font-size:7.5px;color:#444;font-weight:700;transform:scaleX(0.9171);transform-origin:0 0;left:283.75px;">Hispanics</span>
<span style="top:1873.01px;font-size:6.6px;color:#1d4f91;font-weight:700;transform:scaleX(0.9648);transform-origin:0 0;left:66.60px;">infratest dimap</span>
<span style="top:1872.92px;font-size:6px;color:#333;transform:scaleX(1.0769);transform-origin:0 0;left:267.00px;">Stand: 06.11.2024, 20:52 Uhr</span>
<span style="top:1872.92px;font-size:6px;color:#333;transform:scaleX(1.0335);transform-origin:0 0;left:387.70px;">Quelle: NEP/Edison via Reuters</span>
<span style="top:1943.68px;font-size:11.6px;color:#222;font-weight:700;transform:scaleX(1.0623);transform-origin:0 0;left:67.60px;">US-Wahl 2024</span>
<span style="top:1964.98px;font-size:14.2px;color:#222;transform:scaleX(1.0867);transform-origin:0 0;left:67.60px;">Wahlentscheidung erfolgte vor allem aus...</span>
<span style="top:2008.92px;font-size:8.6px;color:#333;transform:scaleX(1.0554);transform-origin:0 0;left:71.80px;">Überzeugung von meinem Kandidaten</span>
<span style="top:2107.52px;font-size:8.6px;color:#333;transform:scaleX(1.0427);transform-origin:0 0;left:71.80px;">Ablehnung des anderen Kandidaten</span>
<span style="top:2033.19px;font-size:7.4px;color:#333;transform:scaleX(1.0531);transform-origin:0 0;left:71.80px;">Harris-Wähler</span>
<span style="top:2031.92px;font-size:10.2px;color:#222;font-weight:700;transform:scaleX(1.0050);transform-origin:0 0;left:137.90px;">67</span>
<span style="top:2065.99px;font-size:7.4px;color:#333;transform:scaleX(1.0755);transform-origin:0 0;left:71.80px;">Trump-Wähler</span>
<span style="top:2064.72px;font-size:10.2px;color:#222;font-weight:700;transform:scaleX(1.0050);transform-origin:0 0;left:137.90px;">80</span>
<span style="top:2131.29px;font-size:7.4px;color:#333;transform:scaleX(1.0531);transform-origin:0 0;left:71.80px;">Harris-Wähler</span>
<span style="top:2130.02px;font-size:10.2px;color:#222;font-weight:700;transform:scaleX(1.0050);transform-origin:0 0;left:137.90px;">30</span>
<span style="top:2164.29px;font-size:7.4px;color:#333;transform:scaleX(1.0755);transform-origin:0 0;left:71.80px;">Trump-Wähler</span>
<span style="top:2163.02px;font-size:10.2px;color:#222;font-weight:700;transform:scaleX(1.0050);transform-origin:0 0;left:137.90px;">18</span>
<span style="top:2195.61px;font-size:6.6px;color:#1d4f91;font-weight:700;transform:scaleX(0.9648);transform-origin:0 0;left:66.60px;">infratest dimap</span>
<span style="top:2195.52px;font-size:6px;color:#333;transform:scaleX(1.0769);transform-origin:0 0;left:267.00px;">Stand: 06.11.2024, 20:52 Uhr</span>
<span style="top:2195.52px;font-size:6px;color:#333;transform:scaleX(1.0335);transform-origin:0 0;left:387.70px;">Quelle: NEP/Edison via Reuters</span>
<span style="top:2273.36px;font-size:5.6px;color:#fff;font-weight:700;transform:scaleX(0.9362);transform-origin:0 0;left:141.65px;">BILDER</span>
<span style="top:2285.39px;font-size:8.4px;color:#333;transform:scaleX(0.9868);transform-origin:0 0;left:138.10px;">Infografik</span>
<span style="top:2296.24px;font-size:12px;color:#1f6aa6;transform:scaleX(0.9461);transform-origin:0 0;left:138.10px;">Wie die USA auf Trump</span>
<span style="top:2310.44px;font-size:12px;color:#1f6aa6;left:138.10px;">blicken und wer ihn wählte</span>
<span style="top:2273.36px;font-size:5.6px;color:#fff;font-weight:700;transform:scaleX(0.9362);transform-origin:0 0;left:404.35px;">BILDER</span>
<span style="top:2285.39px;font-size:8.4px;color:#333;transform:scaleX(0.9868);transform-origin:0 0;left:400.80px;">Infografik</span>
<span style="top:2296.24px;font-size:12px;color:#1f6aa6;transform:scaleX(0.9664);transform-origin:0 0;left:400.80px;">Wie die USA auf Harris</span>
<span style="top:2310.44px;font-size:12px;color:#1f6aa6;transform:scaleX(0.9894);transform-origin:0 0;left:400.80px;">blicken und wer sie wählte</span>
<span style="top:2365.36px;font-size:5.6px;color:#fff;font-weight:700;transform:scaleX(0.9362);transform-origin:0 0;left:141.65px;">BILDER</span>
<span style="top:2377.39px;font-size:8.4px;color:#333;transform:scaleX(0.9868);transform-origin:0 0;left:138.10px;">Infografik</span>
<span style="top:2388.24px;font-size:12px;color:#1f6aa6;transform:scaleX(0.9796);transform-origin:0 0;left:138.10px;">Wie Trump und Harris im</span>
<span style="top:2402.44px;font-size:12px;color:#1f6aa6;transform:scaleX(0.9942);transform-origin:0 0;left:138.10px;">Vergleich bewertet werden</span>
<span style="top:2365.36px;font-size:5.6px;color:#fff;font-weight:700;transform:scaleX(0.9362);transform-origin:0 0;left:404.35px;">BILDER</span>
<span style="top:2377.39px;font-size:8.4px;color:#333;transform:scaleX(0.9868);transform-origin:0 0;left:400.80px;">Infografik</span>
<span style="top:2388.24px;font-size:12px;color:#1f6aa6;transform:scaleX(0.9584);transform-origin:0 0;left:400.80px;">Was die USA bewegt und</span>
<span style="top:2402.44px;font-size:12px;color:#1f6aa6;left:400.80px;">die Stimmung prägt</span>
<span style="top:2267.32px;font-size:3.4px;color:#333;font-weight:700;left:50.30px;">US-Wahl 2024</span>
<span style="top:2271.24px;font-size:4.2px;color:#333;transform:scaleX(0.9200);transform-origin:0 0;left:50.30px;">Profil Donald Trump</span>
<span style="top:2339.23px;font-size:2.8px;color:#1d4f91;font-weight:700;left:50.80px;">infratest dimap</span>
<span style="top:2338.14px;font-size:2.2px;color:#555;left:73.03px;">Stand: 06.11.2024, 20:52 Uhr</span>
<span style="top:2340.74px;font-size:2.2px;color:#555;left:80.18px;">Quelle: Edison</span>
<span style="top:2267.32px;font-size:3.4px;color:#333;font-weight:700;left:313.00px;">US-Wahl 2024</span>
<span style="top:2271.24px;font-size:4.2px;color:#333;transform:scaleX(0.9200);transform-origin:0 0;left:313.00px;">Profilvergleich</span>
<span style="top:2339.23px;font-size:2.8px;color:#1d4f91;font-weight:700;left:313.50px;">infratest dimap</span>
<span style="top:2338.14px;font-size:2.2px;color:#555;left:335.73px;">Stand: 06.11.2024, 20:52 Uhr</span>
<span style="top:2340.74px;font-size:2.2px;color:#555;left:342.88px;">Quelle: Edison</span>
<span style="top:2359.52px;font-size:3.4px;color:#333;font-weight:700;left:50.30px;">US-Wahl 2024</span>
<span style="top:2363.44px;font-size:4.2px;color:#333;transform:scaleX(0.9200);transform-origin:0 0;left:50.30px;">Überwiegend gute oder schlechte</span>
<span style="top:2368.64px;font-size:4.2px;color:#333;transform:scaleX(0.9200);transform-origin:0 0;left:50.30px;">Meinung von...</span>
<span style="top:2431.43px;font-size:2.8px;color:#1d4f91;font-weight:700;left:50.80px;">infratest dimap</span>
<span style="top:2430.34px;font-size:2.2px;color:#555;left:73.03px;">Stand: 06.11.2024, 20:52 Uhr</span>
<span style="top:2432.94px;font-size:2.2px;color:#555;left:80.18px;">Quelle: Edison</span>
<span style="top:2359.52px;font-size:3.4px;color:#333;font-weight:700;left:313.00px;">US-Wahl 2024</span>
<span style="top:2363.44px;font-size:4.2px;color:#333;transform:scaleX(0.9200);transform-origin:0 0;left:313.00px;">Entwickelt sich das Land auf diesem</span>
<span style="top:2368.64px;font-size:4.2px;color:#333;transform:scaleX(0.9200);transform-origin:0 0;left:313.00px;">Gebiet in die richtige oder</span>
<span style="top:2373.84px;font-size:4.2px;color:#333;transform:scaleX(0.9200);transform-origin:0 0;left:313.00px;">die falsche Richtung?</span>
<span style="top:2431.43px;font-size:2.8px;color:#1d4f91;font-weight:700;left:313.50px;">infratest dimap</span>
<span style="top:2430.34px;font-size:2.2px;color:#555;left:335.73px;">Stand: 06.11.2024, 20:52 Uhr</span>
<span style="top:2432.94px;font-size:2.2px;color:#555;left:342.88px;">Quelle: Edison</span>
<span style="top:2482.34px;font-size:18.5px;color:#1f6aa6;transform:scaleX(0.9527);transform-origin:0 0;left:133.30px;">WAHL DES REPRÄSENTANTENHAUSES</span>
<span style="top:2564.03px;font-size:25.6px;color:#333;transform:scaleX(1.0280);transform-origin:0 0;left:132.35px;">435</span>
<span style="top:2645.90px;font-size:7.8px;color:#333;transform:scaleX(1.1007);transform-origin:0 0;left:137.80px;">Mehrheit</span>
<span style="top:2541.92px;font-size:28.8px;color:#fff;font-weight:700;transform:scaleX(0.9888);transform-origin:0 0;left:457.70px;">GOP</span>
<span style="top:2592.62px;font-size:18.4px;color:#333;transform:scaleX(1.0330);transform-origin:0 0;left:284.55px;">200</span>
<span style="top:2592.62px;font-size:18.4px;color:#333;transform:scaleX(1.0748);transform-origin:0 0;left:385.50px;">24</span>
<span style="top:2592.62px;font-size:18.4px;color:#333;transform:scaleX(1.0059);transform-origin:0 0;left:479.65px;">211</span>
<span style="top:2621.84px;font-size:7.4px;color:#333;transform:scaleX(1.1523);transform-origin:0 0;left:277.20px;">Demokraten</span>
<span style="top:2621.84px;font-size:7.4px;color:#333;transform:scaleX(1.1029);transform-origin:0 0;left:387.00px;">Offen</span>
<span style="top:2621.84px;font-size:7.4px;color:#333;transform:scaleX(1.0996);transform-origin:0 0;left:470.85px;">Republikaner</span>
<span style="top:2672.10px;font-size:7.8px;color:#fff;transform:scaleX(0.9908);transform-origin:0 0;left:61.60px;">2024</span>
<span style="top:2672.10px;font-size:7.8px;color:#333;transform:scaleX(0.9908);transform-origin:0 0;left:91.95px;">2022</span>
<span style="top:2672.10px;font-size:7.8px;color:#333;transform:scaleX(0.9908);transform-origin:0 0;left:122.30px;">2020</span>
<span style="top:2672.10px;font-size:7.8px;color:#333;transform:scaleX(0.9908);transform-origin:0 0;left:152.65px;">2018</span>
<span style="top:2672.10px;font-size:7.8px;color:#333;transform:scaleX(0.9908);transform-origin:0 0;left:183.00px;">2016</span>
<span style="top:2672.51px;font-size:7.2px;color:#333;transform:scaleX(0.9031);transform-origin:0 0;left:451.00px;">Quelle: NEP/Edison via Reuters</span>
<span style="top:2728.24px;font-size:18.5px;color:#1f6aa6;transform:scaleX(0.9483);transform-origin:0 0;left:218.65px;">WAHL DES SENATS</span>
<span style="top:2920.53px;font-size:11.9px;color:#1f6aa6;transform:scaleX(1.0472);transform-origin:0 0;left:131.40px;">Ergebnisse der Senatswahl in den Bundesstaaten</span>
<span style="top:2944.20px;font-size:10.4px;color:#333;transform:scaleX(0.9354);transform-origin:0 0;left:131.40px;">Etwa ein Drittel der 100 Senatssitze wird alle zwei Jahre neu gewählt. Jeder</span>
<span style="top:2956.92px;font-size:10.4px;color:#333;transform:scaleX(0.9379);transform-origin:0 0;left:131.40px;">Bundesstaat entsendet zwei Senatorinnen oder Senatoren in diese</span>
<span style="top:2969.64px;font-size:10.4px;color:#333;transform:scaleX(0.9407);transform-origin:0 0;left:131.40px;">Kongresskammer. Die Mehrheitsverhältnisse im Senat spielen für die</span>
<span style="top:2982.36px;font-size:10.4px;color:#333;transform:scaleX(0.9352);transform-origin:0 0;left:131.40px;">jeweilige Präsidentschaft eine große Rolle bei vielen</span>
<span style="top:2995.08px;font-size:10.4px;color:#333;transform:scaleX(0.9232);transform-origin:0 0;left:131.40px;">Gesetzgebungsvorhaben. Wie sehen die Ergebnisse der Wahlen um die</span>
<span style="top:3007.80px;font-size:10.4px;color:#333;transform:scaleX(0.9226);transform-origin:0 0;left:131.40px;">Senatssitze 2024 in den Bundesstaaten aus?</span>
<span style="top:3199.84px;font-size:18.5px;color:#1f6aa6;transform:scaleX(0.9847);transform-origin:0 0;left:194.65px;">WAHLEN IM RÜCKBLICK</span>
<span style="top:3404.19px;font-size:8.4px;color:#222;font-weight:700;transform:scaleX(0.9358);transform-origin:0 0;left:57.30px;">Service</span>
<span style="top:3424.99px;font-size:8.4px;color:#222;font-weight:700;transform:scaleX(0.9607);transform-origin:0 0;left:57.30px;">tagesschau.de</span>
<span style="top:3445.79px;font-size:8.4px;color:#222;font-weight:700;transform:scaleX(0.9731);transform-origin:0 0;left:57.30px;">ARD Angebote</span>
<span style="top:3466.59px;font-size:8.4px;color:#222;font-weight:700;left:57.30px;">Rundfunkanstalten</span>
<span style="top:3491.89px;font-size:8.4px;color:#444;transform:scaleX(1.0429);transform-origin:0 0;left:58.60px;">Impressum</span>
<span style="top:3513.69px;font-size:8.4px;color:#444;left:58.60px;">So erreichen Sie uns</span>
<span style="top:3535.19px;font-size:8.4px;color:#444;transform:scaleX(1.0691);transform-origin:0 0;left:58.60px;">Datenschutzerklärung</span>
<span style="top:3557.09px;font-size:8.4px;color:#444;transform:scaleX(1.0523);transform-origin:0 0;left:58.60px;">Bildrechte</span>
<span style="top:3629.34px;font-size:7.4px;color:#333;transform:scaleX(0.8232);transform-origin:0 0;left:468.30px;">Wir sind deins.</span>
<span style="top:3624.01px;font-size:14.4px;color:#222;font-weight:700;transform:scaleX(0.7792);transform-origin:0 0;left:509.80px;">ARD</span>
<span style="top:3651.38px;font-size:6.4px;color:#999;transform:scaleX(0.9297);transform-origin:0 0;left:47.50px;">© ARD-aktuell / tagesschau.de</span>
</div></body></html>
